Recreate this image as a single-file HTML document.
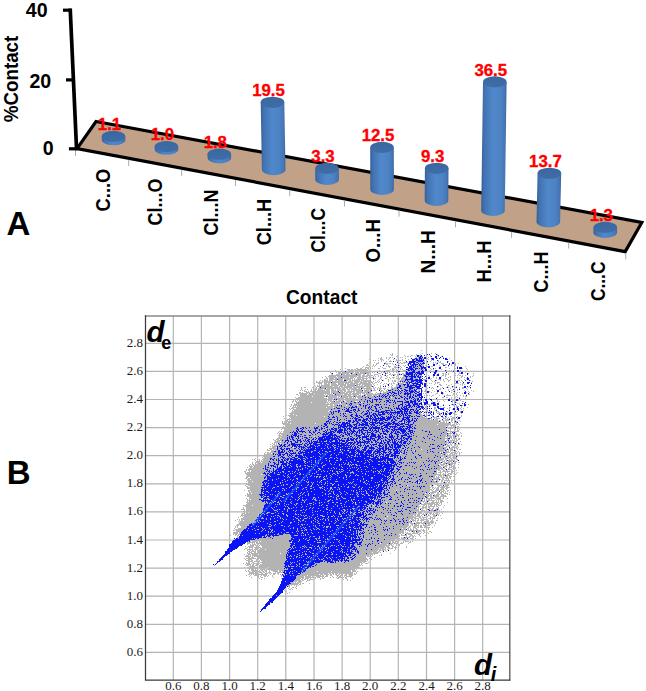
<!DOCTYPE html>
<html><head><meta charset="utf-8"><style>
html,body{margin:0;padding:0;background:#fff;}
svg{display:block;}
</style></head><body>
<svg width="646" height="691" viewBox="0 0 646 691">
<defs><linearGradient id="cb" x1="0" x2="1" y1="0" y2="0">
<stop offset="0" stop-color="#375f97"/><stop offset="0.12" stop-color="#4272b0"/>
<stop offset="0.45" stop-color="#5088cb"/><stop offset="0.75" stop-color="#4d83c4"/>
<stop offset="0.92" stop-color="#4677b6"/><stop offset="1" stop-color="#3a659f"/></linearGradient><linearGradient id="ct" x1="0" x2="0" y1="0" y2="1">
<stop offset="0" stop-color="#3b679f"/><stop offset="1" stop-color="#3f6da8"/></linearGradient></defs>
<polygon points="96,121.5 641.8,222.5 625.2,251.6 77,148.6" fill="#C1A288" stroke="#000" stroke-width="3.2" stroke-linejoin="miter"/>
<line x1="75.5" y1="149.9" x2="75.5" y2="155.9" stroke="#aaa" stroke-width="1"/>
<line x1="128.7" y1="159.9" x2="128.7" y2="165.9" stroke="#aaa" stroke-width="1"/>
<line x1="181.7" y1="169.9" x2="181.7" y2="175.9" stroke="#aaa" stroke-width="1"/>
<line x1="235.5" y1="180.0" x2="235.5" y2="186.0" stroke="#aaa" stroke-width="1"/>
<line x1="289.7" y1="190.2" x2="289.7" y2="196.2" stroke="#aaa" stroke-width="1"/>
<line x1="344.5" y1="200.5" x2="344.5" y2="206.5" stroke="#aaa" stroke-width="1"/>
<line x1="399" y1="210.7" x2="399" y2="216.7" stroke="#aaa" stroke-width="1"/>
<line x1="455.5" y1="221.3" x2="455.5" y2="227.3" stroke="#aaa" stroke-width="1"/>
<line x1="511.6" y1="231.9" x2="511.6" y2="237.9" stroke="#aaa" stroke-width="1"/>
<line x1="568.7" y1="242.6" x2="568.7" y2="248.6" stroke="#aaa" stroke-width="1"/>
<line x1="625.8" y1="253.3" x2="625.8" y2="259.3" stroke="#aaa" stroke-width="1"/>
<line x1="70.2" y1="8.5" x2="76.6" y2="150.2" stroke="#000" stroke-width="3.7"/>
<line x1="63" y1="10.2" x2="71.5" y2="10.2" stroke="#000" stroke-width="3.2"/>
<line x1="66" y1="79.9" x2="73.5" y2="79.9" stroke="#000" stroke-width="3.2"/>
<line x1="68.9" y1="148.8" x2="77.5" y2="148.8" stroke="#000" stroke-width="3.2"/>
<path d="M101.7,136.4 L101.8,139.7 A11.8,5.6 0 0 0 125.4,139.7 L125.3,136.4 Z" fill="url(#cb)"/>
<ellipse cx="113.5" cy="136.4" rx="11.8" ry="5.6" fill="url(#ct)"/>
<path d="M154.6,146.6 L154.7,149.2 A11.8,5.6 0 0 0 178.3,149.2 L178.2,146.6 Z" fill="url(#cb)"/>
<ellipse cx="166.4" cy="146.6" rx="11.8" ry="5.6" fill="url(#ct)"/>
<path d="M207.5,154.2 L207.6,157.8 A11.8,5.6 0 0 0 231.2,157.8 L231.1,154.2 Z" fill="url(#cb)"/>
<ellipse cx="219.3" cy="154.2" rx="11.8" ry="5.6" fill="url(#ct)"/>
<path d="M260.7,102.3 L261.9,169.6 A11.8,5.6 0 0 0 285.5,169.6 L284.3,102.3 Z" fill="url(#cb)"/>
<ellipse cx="272.5" cy="102.3" rx="11.8" ry="5.6" fill="url(#ct)"/>
<path d="M315.2,168.4 L315.3,179.4 A11.8,5.6 0 0 0 338.9,179.4 L338.8,168.4 Z" fill="url(#cb)"/>
<ellipse cx="327.0" cy="168.4" rx="11.8" ry="5.6" fill="url(#ct)"/>
<path d="M370.2,147.4 L370.3,189.4 A11.8,5.6 0 0 0 393.9,189.4 L393.8,147.4 Z" fill="url(#cb)"/>
<ellipse cx="382.0" cy="147.4" rx="11.8" ry="5.6" fill="url(#ct)"/>
<path d="M424.9,168.3 L424.7,200.4 A11.8,5.6 0 0 0 448.3,200.4 L448.5,168.3 Z" fill="url(#cb)"/>
<ellipse cx="436.7" cy="168.3" rx="11.8" ry="5.6" fill="url(#ct)"/>
<path d="M483.0,81.9 L481.2,210.4 A11.8,5.6 0 0 0 504.8,210.4 L506.6,81.9 Z" fill="url(#cb)"/>
<ellipse cx="494.8" cy="81.9" rx="11.8" ry="5.6" fill="url(#ct)"/>
<path d="M537.6,173.3 L536.5,221.8 A11.8,5.6 0 0 0 560.1,221.8 L561.2,173.3 Z" fill="url(#cb)"/>
<ellipse cx="549.4" cy="173.3" rx="11.8" ry="5.6" fill="url(#ct)"/>
<path d="M593.5,227.4 L593.4,232.4 A11.8,5.6 0 0 0 617.0,232.4 L617.1,227.4 Z" fill="url(#cb)"/>
<ellipse cx="605.3" cy="227.4" rx="11.8" ry="5.6" fill="url(#ct)"/>
<text x="109.5" y="130.2" text-anchor="middle" font-family='"Liberation Sans", sans-serif' font-weight="bold" font-size="16.8" fill="#FF0000" stroke="#FF0000" stroke-width="0.35">1.1</text>
<text x="162.4" y="140.4" text-anchor="middle" font-family='"Liberation Sans", sans-serif' font-weight="bold" font-size="16.8" fill="#FF0000" stroke="#FF0000" stroke-width="0.35">1.0</text>
<text x="215.3" y="148.0" text-anchor="middle" font-family='"Liberation Sans", sans-serif' font-weight="bold" font-size="16.8" fill="#FF0000" stroke="#FF0000" stroke-width="0.35">1.8</text>
<text x="268.5" y="96.1" text-anchor="middle" font-family='"Liberation Sans", sans-serif' font-weight="bold" font-size="16.8" fill="#FF0000" stroke="#FF0000" stroke-width="0.35">19.5</text>
<text x="323.0" y="162.2" text-anchor="middle" font-family='"Liberation Sans", sans-serif' font-weight="bold" font-size="16.8" fill="#FF0000" stroke="#FF0000" stroke-width="0.35">3.3</text>
<text x="378.0" y="141.2" text-anchor="middle" font-family='"Liberation Sans", sans-serif' font-weight="bold" font-size="16.8" fill="#FF0000" stroke="#FF0000" stroke-width="0.35">12.5</text>
<text x="432.7" y="162.1" text-anchor="middle" font-family='"Liberation Sans", sans-serif' font-weight="bold" font-size="16.8" fill="#FF0000" stroke="#FF0000" stroke-width="0.35">9.3</text>
<text x="490.8" y="75.7" text-anchor="middle" font-family='"Liberation Sans", sans-serif' font-weight="bold" font-size="16.8" fill="#FF0000" stroke="#FF0000" stroke-width="0.35">36.5</text>
<text x="545.4" y="167.1" text-anchor="middle" font-family='"Liberation Sans", sans-serif' font-weight="bold" font-size="16.8" fill="#FF0000" stroke="#FF0000" stroke-width="0.35">13.7</text>
<text x="601.3" y="221.2" text-anchor="middle" font-family='"Liberation Sans", sans-serif' font-weight="bold" font-size="16.8" fill="#FF0000" stroke="#FF0000" stroke-width="0.35">1.3</text>
<text x="47.6" y="17.4" text-anchor="end" font-family='"Liberation Sans", sans-serif' font-weight="bold" font-size="19.6">40</text>
<text x="51.2" y="87.6" text-anchor="end" font-family='"Liberation Sans", sans-serif' font-weight="bold" font-size="19.6">20</text>
<text x="53.6" y="155.2" text-anchor="end" font-family='"Liberation Sans", sans-serif' font-weight="bold" font-size="19.6">0</text>
<text transform="translate(17.8,122.2) rotate(-90)" font-family='"Liberation Sans", sans-serif' font-weight="bold" font-size="20.5" textLength="86.5" lengthAdjust="spacingAndGlyphs">%Contact</text>
<text transform="translate(109.6,168.7) rotate(-90)" text-anchor="end" font-family='"Liberation Sans", sans-serif' font-weight="bold" font-size="20" textLength="42.7" lengthAdjust="spacingAndGlyphs">C...O</text>
<text transform="translate(162.2,178.6) rotate(-90)" text-anchor="end" font-family='"Liberation Sans", sans-serif' font-weight="bold" font-size="20" textLength="47.0" lengthAdjust="spacingAndGlyphs">Cl...O</text>
<text transform="translate(217.8,189.6) rotate(-90)" text-anchor="end" font-family='"Liberation Sans", sans-serif' font-weight="bold" font-size="20" textLength="46.0" lengthAdjust="spacingAndGlyphs">Cl...N</text>
<text transform="translate(270.5,198.8) rotate(-90)" text-anchor="end" font-family='"Liberation Sans", sans-serif' font-weight="bold" font-size="20" textLength="46.5" lengthAdjust="spacingAndGlyphs">Cl...H</text>
<text transform="translate(324.6,208.0) rotate(-90)" text-anchor="end" font-family='"Liberation Sans", sans-serif' font-weight="bold" font-size="20" textLength="44.5" lengthAdjust="spacingAndGlyphs">Cl...C</text>
<text transform="translate(380.3,219.1) rotate(-90)" text-anchor="end" font-family='"Liberation Sans", sans-serif' font-weight="bold" font-size="20" textLength="43.3" lengthAdjust="spacingAndGlyphs">O...H</text>
<text transform="translate(434.8,230.3) rotate(-90)" text-anchor="end" font-family='"Liberation Sans", sans-serif' font-weight="bold" font-size="20" textLength="43.3" lengthAdjust="spacingAndGlyphs">N...H</text>
<text transform="translate(490.8,240.4) rotate(-90)" text-anchor="end" font-family='"Liberation Sans", sans-serif' font-weight="bold" font-size="20" textLength="42.1" lengthAdjust="spacingAndGlyphs">H...H</text>
<text transform="translate(547.8,251.6) rotate(-90)" text-anchor="end" font-family='"Liberation Sans", sans-serif' font-weight="bold" font-size="20" textLength="40.8" lengthAdjust="spacingAndGlyphs">C...H</text>
<text transform="translate(604.7,261.5) rotate(-90)" text-anchor="end" font-family='"Liberation Sans", sans-serif' font-weight="bold" font-size="20" textLength="39.6" lengthAdjust="spacingAndGlyphs">C...C</text>
<text x="286" y="303.8" font-family='"Liberation Sans", sans-serif' font-weight="bold" font-size="20" textLength="71.5" lengthAdjust="spacingAndGlyphs">Contact</text>
<text x="6.6" y="234.5" font-family='"Liberation Sans", sans-serif' font-weight="bold" font-size="33">A</text>
<text x="6.7" y="483.7" font-family='"Liberation Sans", sans-serif' font-weight="bold" font-size="33">B</text>
<path d="M173.3,315.9V680.0M201.4,315.9V680.0M229.6,315.9V680.0M257.7,315.9V680.0M285.8,315.9V680.0M314.0,315.9V680.0M342.1,315.9V680.0M370.2,315.9V680.0M398.3,315.9V680.0M426.5,315.9V680.0M454.6,315.9V680.0M482.7,315.9V680.0M145.5,343.3H509.7M145.5,371.4H509.7M145.5,399.5H509.7M145.5,427.6H509.7M145.5,455.7H509.7M145.5,483.8H509.7M145.5,511.9H509.7M145.5,540.0H509.7M145.5,568.1H509.7M145.5,596.2H509.7M145.5,624.3H509.7M145.5,652.4H509.7" stroke="#b4b4b4" stroke-width="1.2" fill="none"/>
<path d="M421 350.5h1M392 353.5h1m29 0h1m8 0h1m3 0h1M390 354.5h1m1 0h1m23 0h1m3 0h1m16 0h1M391 355.5h2m4 0h1m6 0h1m6 0h2m3 0h1m2 0h2m9 0h1m6 0h1M396 356.5h1m8 0h1m1 0h2m1 0h1m4 0h1m3 0h1m2 0h1m3 0h1m3 0h1m7 0h1m2 0h1M381 357.5h1m4 0h1m2 0h2m1 0h1m4 0h1m2 0h1m1 0h1m13 0h1m1 0h1m2 0h1m6 0h1m14 0h1M378 358.5h1m1 0h2m4 0h1m2 0h1m8 0h1m6 0h1m8 0h1m2 0h2m3 0h2m3 0h1m9 0h1m11 0h1M369 359.5h1m10 0h3m5 0h1m4 0h1m2 0h1m1 0h1m3 0h1m5 0h1m6 0h1m2 0h1m1 0h1m1 0h1m5 0h1m2 0h1M373 360.5h1m1 0h1m2 0h1m2 0h1m1 0h1m6 0h1m5 0h2m1 0h2m1 0h1m2 0h1m8 0h2m8 0h1m6 0h1m1 0h1m4 0h1m12 0h1M370 361.5h1m10 0h1m4 0h1m2 0h3m3 0h1m1 0h2m17 0h2m5 0h2m1 0h1m3 0h1m7 0h1m1 0h1m7 0h1M370 362.5h1m3 0h1m3 0h1m6 0h1m14 0h1m2 0h5m7 0h1m2 0h5m1 0h1m2 0h1m5 0h1m1 0h1m1 0h1m1 0h2M369 363.5h1m6 0h3m6 0h3m1 0h2m1 0h1m5 0h2m1 0h2m1 0h1m6 0h1m3 0h3m1 0h1m1 0h1m11 0h1m2 0h1m4 0h3m10 0h2m2 0h1M367 364.5h1m5 0h1m2 0h1m7 0h1m1 0h2m5 0h1m13 0h1m3 0h1m6 0h1m1 0h1m1 0h2m12 0h1m5 0h2m1 0h2m4 0h1m3 0h1M366 365.5h3m4 0h1m1 0h1m12 0h1m7 0h1m2 0h1m3 0h1m1 0h1m4 0h1m3 0h1m1 0h3m2 0h3m1 0h1m13 0h1m5 0h1m5 0h1m3 0h1M363 366.5h1m5 0h1m2 0h1m1 0h1m5 0h1m5 0h1m1 0h3m3 0h2m4 0h1m3 0h1m7 0h1m1 0h1m1 0h1m1 0h2m2 0h1m3 0h2m3 0h2m7 0h1m7 0h1m8 0h1m7 0h1M362 367.5h1m2 0h4m1 0h1m11 0h1m6 0h1m4 0h4m1 0h1m1 0h1m10 0h1m2 0h6m24 0h2M345 368.5h1m10 0h2m2 0h2m3 0h1m1 0h2m1 0h1m1 0h1m5 0h2m3 0h3m6 0h2m1 0h1m2 0h1m1 0h1m12 0h2m3 0h1m1 0h1m2 0h1m6 0h1m4 0h1m13 0h1m4 0h2m6 0h1m3 0h1M340 369.5h1m6 0h3m1 0h2m1 0h2m1 0h10m1 0h1m21 0h1m1 0h3m1 0h1m3 0h1m1 0h1m6 0h1m4 0h1m1 0h5m1 0h2m7 0h1m1 0h1m7 0h1m25 0h1M335 370.5h1m12 0h6m1 0h13m1 0h1m9 0h1m6 0h4m2 0h2m2 0h2m5 0h3m1 0h1m2 0h1m1 0h1m2 0h7m1 0h2m5 0h1m6 0h1m8 0h1m2 0h1m1 0h1m1 0h1m6 0h1M333 371.5h1m5 0h4m1 0h1m1 0h2m1 0h1m2 0h11m1 0h5m3 0h1m3 0h1m1 0h1m1 0h1m2 0h1m1 0h2m1 0h1m2 0h1m1 0h1m2 0h1m6 0h2m2 0h5m3 0h3m2 0h1m4 0h2m2 0h1m17 0h1m6 0h2m7 0h1M330 372.5h1m5 0h1m1 0h3m1 0h12m1 0h4m1 0h10m2 0h1m1 0h1m6 0h1m1 0h3m1 0h1m1 0h1m3 0h1m2 0h1m8 0h1m2 0h1m6 0h1m4 0h1m12 0h1m2 0h1m17 0h1m4 0h1m5 0h1M331 373.5h1m6 0h11m1 0h1m1 0h1m1 0h11m1 0h3m1 0h1m7 0h3m5 0h2m2 0h1m8 0h1m2 0h2m1 0h1m7 0h2m1 0h1m21 0h1m3 0h2m1 0h1m2 0h1m5 0h2m3 0h2m7 0h1m4 0h1M331 374.5h2m3 0h4m2 0h3m1 0h4m1 0h5m1 0h4m2 0h2m2 0h2m1 0h1m3 0h4m7 0h1m3 0h2m1 0h4m1 0h1m2 0h1m2 0h3m7 0h1m1 0h1m1 0h2m24 0h1m1 0h2m1 0h1m9 0h1M329 375.5h13m1 0h18m1 0h3m1 0h4m1 0h2m1 0h1m3 0h1m1 0h1m3 0h1m2 0h1m3 0h1m2 0h1m2 0h1m5 0h1m2 0h2m1 0h2m2 0h1m1 0h1m1 0h1m1 0h3m6 0h1m7 0h1m5 0h2m1 0h1m9 0h1m1 0h1m1 0h2m1 0h1m2 0h1m7 0h1M325 376.5h1m2 0h8m1 0h20m1 0h3m1 0h6m1 0h2m2 0h1m1 0h1m2 0h1m2 0h1m4 0h1m9 0h1m1 0h1m4 0h2m3 0h1m7 0h1m2 0h1m1 0h1m4 0h1m2 0h1m3 0h1m7 0h1m3 0h1m4 0h1m10 0h2m7 0h1m1 0h1M322 377.5h1m3 0h1m2 0h8m1 0h3m1 0h7m1 0h4m1 0h1m1 0h7m2 0h1m1 0h6m6 0h2m5 0h1m1 0h1m2 0h3m5 0h1m1 0h4m1 0h4m2 0h1m2 0h2m3 0h1m2 0h1m8 0h1m2 0h1m11 0h1m1 0h1m3 0h1m2 0h1m3 0h1m2 0h1m5 0h1M326 378.5h2m1 0h5m1 0h18m1 0h1m2 0h4m1 0h6m2 0h1m3 0h2m4 0h1m4 0h2m3 0h1m2 0h1m2 0h4m1 0h5m1 0h3m3 0h5m2 0h1m10 0h1m4 0h1m8 0h2m12 0h1m6 0h1M324 379.5h2m1 0h1m1 0h8m1 0h5m1 0h7m1 0h1m1 0h1m1 0h8m2 0h1m3 0h1m2 0h1m5 0h1m1 0h1m6 0h1m10 0h1m1 0h4m8 0h2m3 0h1m4 0h3m4 0h1m7 0h3m2 0h1m3 0h1m2 0h1m3 0h1m9 0h1M320 380.5h1m1 0h1m1 0h4m1 0h4m2 0h2m1 0h5m3 0h2m1 0h2m1 0h8m1 0h10m4 0h1m2 0h1m4 0h1m4 0h1m3 0h1m1 0h2m4 0h5m1 0h1m1 0h3m13 0h1m6 0h1m4 0h1m3 0h1m2 0h1m4 0h2m5 0h1m1 0h3m1 0h1m8 0h1M316 381.5h1m2 0h1m2 0h9m1 0h15m1 0h5m1 0h8m1 0h9m1 0h1m3 0h1m1 0h1m8 0h1m3 0h1m1 0h2m3 0h1m1 0h1m1 0h1m1 0h3m1 0h2m3 0h2m2 0h1m13 0h1m1 0h1m9 0h1m3 0h1m13 0h1m9 0h1M316 382.5h7m1 0h7m1 0h21m1 0h5m1 0h7m1 0h2m1 0h2m2 0h2m1 0h1m2 0h1m11 0h1m3 0h1m2 0h1m1 0h4m2 0h1m3 0h3m1 0h1m5 0h1m12 0h1m1 0h3m20 0h1m10 0h1M314 383.5h1m3 0h4m2 0h3m1 0h2m1 0h5m2 0h6m1 0h4m1 0h8m1 0h12m1 0h1m1 0h1m5 0h1m3 0h1m1 0h1m2 0h1m1 0h1m1 0h2m4 0h5m1 0h2m1 0h1m2 0h1m6 0h1m10 0h1m1 0h1m3 0h1m1 0h1m17 0h4m3 0h2M319 384.5h1m1 0h1m2 0h6m1 0h6m1 0h8m1 0h8m1 0h5m1 0h10m1 0h1m3 0h1m5 0h1m3 0h1m3 0h1m4 0h2m1 0h4m3 0h1m2 0h4m1 0h2m18 0h1m4 0h2m5 0h1m4 0h1m8 0h1m1 0h1m1 0h1M314 385.5h1m2 0h1m1 0h1m1 0h9m1 0h8m1 0h6m1 0h8m1 0h2m1 0h1m1 0h2m1 0h6m1 0h1m2 0h1m5 0h1m4 0h1m6 0h1m3 0h3m2 0h3m1 0h2m2 0h1m7 0h2m8 0h1m12 0h2m6 0h2m4 0h1m7 0h1M315 386.5h1m1 0h16m1 0h4m1 0h4m1 0h11m1 0h14m1 0h1m1 0h1m6 0h1m10 0h1m4 0h3m2 0h6m5 0h3m23 0h1m8 0h1m5 0h2m1 0h1m12 0h1M301 387.5h1m2 0h2m6 0h2m2 0h1m2 0h1m1 0h19m1 0h11m1 0h11m2 0h5m2 0h1m1 0h1m2 0h1m1 0h1m7 0h1m2 0h2m1 0h3m3 0h5m3 0h1m6 0h1m9 0h2m5 0h1m4 0h1m4 0h1m3 0h1m1 0h1m3 0h1m2 0h1m3 0h1m2 0h2m4 0h1M301 388.5h1m11 0h1m1 0h2m1 0h7m2 0h14m2 0h2m1 0h2m1 0h8m1 0h2m2 0h10m1 0h2m2 0h1m1 0h3m1 0h3m5 0h6m1 0h2m2 0h7m4 0h4m9 0h2m3 0h1m1 0h1m6 0h1m9 0h1m3 0h1m4 0h1m2 0h2m2 0h1m3 0h1M301 389.5h1m3 0h1m1 0h1m3 0h1m1 0h1m1 0h2m1 0h5m1 0h6m1 0h3m1 0h1m1 0h4m1 0h4m1 0h3m1 0h11m2 0h1m1 0h6m2 0h1m2 0h1m1 0h2m3 0h1m2 0h2m1 0h2m1 0h5m2 0h4m2 0h3m2 0h3m1 0h1m1 0h3m5 0h1m10 0h1m2 0h2m7 0h1m8 0h1m9 0h1M300 390.5h1m1 0h1m1 0h1m6 0h1m2 0h2m1 0h8m1 0h4m1 0h5m1 0h5m1 0h3m2 0h2m1 0h1m1 0h9m2 0h5m1 0h1m2 0h3m5 0h2m3 0h1m4 0h4m1 0h1m1 0h1m4 0h2m3 0h1m1 0h1m2 0h1m2 0h1m1 0h2m2 0h1m2 0h1m6 0h1m15 0h1m2 0h2m4 0h1m6 0h1m6 0h1M304 391.5h3m1 0h1m1 0h20m1 0h7m2 0h3m1 0h2m1 0h8m1 0h7m1 0h8m8 0h2m1 0h1m2 0h6m1 0h5m1 0h1m1 0h3m1 0h1m1 0h2m5 0h1m2 0h2m3 0h1m1 0h2m3 0h1m4 0h1m6 0h1m3 0h1m7 0h1m14 0h1m4 0h1M299 392.5h2m1 0h1m3 0h4m2 0h18m1 0h8m1 0h5m1 0h6m1 0h2m1 0h12m1 0h2m5 0h1m3 0h1m2 0h6m2 0h1m3 0h3m1 0h2m1 0h3m1 0h1m1 0h2m3 0h1m1 0h2m2 0h1m11 0h1m5 0h1m13 0h1m5 0h1m1 0h1m6 0h1m2 0h1M299 393.5h9m1 0h5m1 0h15m1 0h1m2 0h14m1 0h2m1 0h9m1 0h3m1 0h4m1 0h2m2 0h1m1 0h3m1 0h6m3 0h1m1 0h2m3 0h1m1 0h1m1 0h3m7 0h4m3 0h1m4 0h1m1 0h1m10 0h2m5 0h1m9 0h2m1 0h1m5 0h1M296 394.5h2m2 0h7m1 0h6m1 0h9m1 0h1m1 0h6m1 0h1m1 0h5m1 0h1m1 0h15m1 0h1m3 0h19m1 0h1m1 0h2m1 0h4m1 0h4m1 0h5m2 0h1m2 0h1m1 0h2m1 0h3m18 0h1m6 0h1m4 0h1m5 0h1m2 0h1m11 0h2M298 395.5h1m1 0h25m1 0h2m1 0h18m1 0h3m2 0h4m1 0h3m1 0h2m1 0h1m1 0h5m1 0h4m1 0h1m1 0h2m1 0h1m1 0h2m1 0h2m1 0h1m1 0h1m1 0h1m1 0h2m1 0h7m1 0h2m1 0h2m1 0h1m1 0h1m7 0h1m1 0h2m1 0h1m2 0h2m5 0h1m4 0h1m1 0h5m1 0h1m4 0h1m2 0h1m2 0h1M300 396.5h12m1 0h13m1 0h10m1 0h2m3 0h11m1 0h7m1 0h11m1 0h2m1 0h1m1 0h1m1 0h1m1 0h1m2 0h2m1 0h3m1 0h6m2 0h2m1 0h2m1 0h1m2 0h1m1 0h2m2 0h2m7 0h1m4 0h1m22 0h1m1 0h1m6 0h1m1 0h2M295 397.5h1m2 0h26m4 0h9m1 0h1m1 0h8m1 0h3m1 0h1m1 0h1m1 0h8m1 0h2m1 0h6m1 0h6m1 0h2m1 0h3m1 0h1m1 0h3m1 0h5m2 0h2m1 0h3m2 0h1m2 0h5m18 0h1m4 0h2m2 0h2m3 0h1m2 0h2m1 0h1m1 0h1M296 398.5h31m1 0h5m1 0h10m1 0h11m2 0h11m2 0h8m1 0h6m1 0h1m1 0h6m2 0h1m2 0h4m1 0h1m2 0h1m1 0h1m1 0h2m1 0h2m3 0h1m8 0h1m19 0h1m1 0h1m2 0h1m10 0h1M297 399.5h31m1 0h1m1 0h3m1 0h1m1 0h1m1 0h4m1 0h1m1 0h12m1 0h2m1 0h3m1 0h6m1 0h1m4 0h1m3 0h7m1 0h14m1 0h2m1 0h5m1 0h1m1 0h1m5 0h1m1 0h1m19 0h1m13 0h2m1 0h2m8 0h1M293 400.5h1m1 0h1m1 0h1m1 0h28m1 0h4m1 0h1m1 0h2m1 0h3m1 0h2m1 0h22m1 0h1m1 0h2m1 0h3m1 0h9m3 0h1m1 0h1m1 0h1m1 0h10m1 0h4m2 0h2m2 0h1m1 0h1m1 0h1m2 0h1m13 0h1m5 0h1m8 0h2m1 0h1m2 0h1m1 0h1M292 401.5h2m1 0h2m1 0h29m1 0h1m1 0h4m2 0h7m1 0h1m1 0h5m1 0h3m2 0h1m2 0h4m1 0h2m1 0h2m1 0h1m1 0h3m1 0h3m1 0h3m1 0h2m2 0h5m1 0h2m6 0h3m3 0h1m6 0h2m2 0h1m2 0h1m8 0h1m4 0h1m1 0h1m4 0h1m7 0h1m2 0h1m6 0h2M292 402.5h1m3 0h15m1 0h16m1 0h1m1 0h9m2 0h12m2 0h2m1 0h1m2 0h5m1 0h3m2 0h6m1 0h6m1 0h2m2 0h2m1 0h1m1 0h6m1 0h1m5 0h1m3 0h1m2 0h3m1 0h1m2 0h1m7 0h2m2 0h1m2 0h1m13 0h1m1 0h1m1 0h1M294 403.5h1m1 0h30m1 0h2m1 0h10m1 0h5m1 0h3m2 0h11m1 0h31m1 0h6m1 0h5m2 0h2m1 0h1m4 0h1m16 0h1m21 0h1m1 0h1M291 404.5h1m2 0h39m1 0h4m1 0h2m1 0h7m1 0h1m1 0h7m2 0h6m1 0h1m1 0h5m4 0h1m1 0h3m1 0h1m1 0h6m1 0h6m3 0h2m1 0h2m2 0h3m5 0h1m1 0h1m1 0h1m4 0h3m1 0h1m11 0h1m7 0h1m1 0h1m5 0h1m8 0h1M291 405.5h1m1 0h35m2 0h3m1 0h3m1 0h1m1 0h1m2 0h3m1 0h3m1 0h6m1 0h2m1 0h2m1 0h1m2 0h5m1 0h3m1 0h1m1 0h10m1 0h8m2 0h2m1 0h3m5 0h2m2 0h2m2 0h1m1 0h2m1 0h1m1 0h1m2 0h2m5 0h2m15 0h1m2 0h1m5 0h1M290 406.5h1m2 0h1m1 0h1m1 0h44m1 0h10m1 0h2m2 0h6m1 0h1m1 0h3m1 0h1m1 0h2m2 0h5m1 0h11m1 0h4m1 0h3m1 0h1m3 0h2m2 0h1m1 0h1m1 0h1m1 0h1m5 0h1m1 0h1m14 0h1m15 0h3m2 0h1m2 0h1M292 407.5h34m1 0h6m1 0h2m1 0h7m1 0h4m1 0h1m4 0h1m1 0h8m1 0h2m2 0h1m1 0h3m1 0h3m1 0h1m1 0h3m2 0h1m1 0h7m1 0h1m1 0h2m1 0h1m2 0h1m1 0h1m2 0h1m1 0h5m8 0h1m1 0h1m6 0h2m7 0h2m4 0h2m3 0h1m1 0h1m4 0h1m5 0h1M289 408.5h1m1 0h3m2 0h38m1 0h2m3 0h6m1 0h1m1 0h2m1 0h6m1 0h2m1 0h3m1 0h2m1 0h1m1 0h4m2 0h5m1 0h5m1 0h1m1 0h3m1 0h1m4 0h1m2 0h1m4 0h8m1 0h3m1 0h1m1 0h1m10 0h2m11 0h1m1 0h1m10 0h1m2 0h1M290 409.5h1m2 0h38m1 0h10m1 0h1m1 0h2m2 0h4m3 0h2m1 0h10m1 0h1m1 0h4m1 0h3m1 0h10m1 0h5m1 0h1m2 0h1m7 0h1m4 0h2m1 0h2m6 0h1m1 0h1m6 0h1m1 0h1m12 0h1m2 0h1m3 0h1m4 0h1M292 410.5h1m1 0h35m1 0h8m2 0h6m3 0h1m2 0h1m1 0h1m1 0h2m2 0h7m2 0h3m2 0h2m1 0h1m1 0h6m5 0h1m2 0h1m1 0h5m2 0h2m2 0h1m1 0h2m1 0h2m1 0h1m1 0h1m10 0h1m7 0h1m7 0h2m18 0h1M292 411.5h36m1 0h1m1 0h2m1 0h1m2 0h1m2 0h5m5 0h4m1 0h2m1 0h5m1 0h2m1 0h1m1 0h6m4 0h2m4 0h1m1 0h3m1 0h4m1 0h1m6 0h1m4 0h1m1 0h1m1 0h2m1 0h1m2 0h2m3 0h1m1 0h1m1 0h1m1 0h2m2 0h1m2 0h3m8 0h1m9 0h1m2 0h1M291 412.5h40m1 0h1m1 0h4m1 0h7m1 0h2m3 0h3m1 0h6m1 0h4m1 0h1m1 0h1m1 0h6m6 0h1m4 0h1m10 0h1m2 0h1m1 0h1m1 0h2m2 0h3m4 0h1m1 0h1m4 0h1m4 0h1m5 0h1m1 0h2m2 0h1m2 0h1m1 0h1m1 0h1m2 0h1m2 0h1m4 0h1M289 413.5h42m1 0h1m1 0h6m1 0h2m1 0h1m1 0h10m1 0h4m1 0h3m3 0h1m1 0h3m3 0h2m1 0h2m4 0h2m1 0h1m1 0h1m1 0h1m1 0h1m1 0h1m3 0h1m2 0h1m4 0h1m3 0h4m3 0h2m2 0h1m4 0h1m8 0h4m7 0h1m4 0h1m7 0h1M290 414.5h3m1 0h35m1 0h2m1 0h10m1 0h7m2 0h3m1 0h7m3 0h2m1 0h2m2 0h1m2 0h1m7 0h3m1 0h1m2 0h2m1 0h2m1 0h2m1 0h1m2 0h1m1 0h1m1 0h11m1 0h2m2 0h1m4 0h1m10 0h1m6 0h1m7 0h2M286 415.5h1m1 0h8m1 0h43m1 0h3m1 0h5m2 0h3m3 0h1m1 0h3m1 0h3m2 0h1m2 0h1m2 0h1m2 0h1m2 0h9m1 0h1m1 0h4m1 0h1m1 0h1m1 0h1m1 0h1m2 0h1m3 0h5m1 0h6m4 0h1m3 0h2m5 0h1m1 0h1m1 0h1m1 0h1m1 0h1m7 0h1m6 0h1M283 416.5h1m5 0h35m1 0h3m1 0h4m1 0h2m1 0h6m1 0h1m2 0h4m2 0h3m2 0h2m2 0h4m3 0h1m2 0h2m2 0h1m1 0h3m2 0h3m1 0h1m1 0h1m2 0h1m2 0h1m1 0h2m2 0h2m1 0h3m1 0h1m1 0h1m2 0h1m1 0h2m3 0h3m1 0h1m7 0h1m3 0h1m9 0h1m3 0h2m5 0h1m3 0h1M290 417.5h39m1 0h2m3 0h2m1 0h15m1 0h1m1 0h2m2 0h1m2 0h5m1 0h1m1 0h1m1 0h1m2 0h2m1 0h1m1 0h1m3 0h2m5 0h1m1 0h1m1 0h1m1 0h5m7 0h15m8 0h4m5 0h2m1 0h2m1 0h1m3 0h2m6 0h1M284 418.5h1m4 0h1m1 0h37m1 0h8m1 0h8m1 0h3m1 0h1m1 0h1m4 0h5m1 0h2m2 0h1m3 0h1m1 0h1m10 0h1m5 0h2m2 0h2m3 0h2m2 0h2m3 0h3m1 0h1m2 0h1m1 0h8m1 0h1m2 0h2m2 0h1m1 0h4m3 0h3m1 0h1m1 0h1m1 0h3m1 0h1m1 0h1M285 419.5h1m1 0h42m3 0h2m1 0h2m1 0h2m1 0h3m1 0h10m2 0h1m3 0h2m5 0h2m1 0h1m5 0h1m1 0h1m6 0h1m3 0h2m1 0h1m2 0h6m4 0h1m3 0h2m1 0h3m1 0h13m1 0h1m3 0h3m7 0h4m2 0h2m4 0h1M286 420.5h2m1 0h1m1 0h37m1 0h8m1 0h1m1 0h6m1 0h1m3 0h2m1 0h1m2 0h1m3 0h1m3 0h1m1 0h1m1 0h1m1 0h1m1 0h1m4 0h1m4 0h2m3 0h3m2 0h2m2 0h4m2 0h1m1 0h1m1 0h1m2 0h1m2 0h1m1 0h1m1 0h21m1 0h2m1 0h2m1 0h4m2 0h2m2 0h1m3 0h1M282 421.5h1m1 0h1m1 0h40m3 0h1m1 0h3m1 0h13m3 0h2m2 0h1m2 0h4m4 0h3m1 0h2m1 0h2m2 0h2m1 0h3m1 0h7m1 0h1m2 0h4m3 0h2m1 0h2m4 0h3m2 0h23m1 0h1m2 0h2m1 0h1m4 0h1m4 0h2m2 0h1M282 422.5h1m1 0h1m1 0h1m1 0h38m1 0h2m1 0h3m1 0h2m2 0h1m2 0h1m3 0h1m2 0h1m1 0h2m2 0h3m2 0h2m1 0h2m4 0h2m6 0h1m3 0h1m2 0h1m3 0h1m2 0h2m3 0h3m1 0h4m2 0h1m1 0h1m2 0h3m1 0h25m1 0h5m1 0h1m1 0h1m1 0h1m1 0h1m1 0h3M282 423.5h8m1 0h24m1 0h8m2 0h1m1 0h1m1 0h1m1 0h6m1 0h3m8 0h6m2 0h1m1 0h2m2 0h1m3 0h1m1 0h2m2 0h1m3 0h1m5 0h3m5 0h1m5 0h1m1 0h1m4 0h3m1 0h4m1 0h37m3 0h1m1 0h1m1 0h1M283 424.5h41m3 0h5m2 0h1m3 0h1m1 0h1m5 0h1m1 0h1m2 0h2m4 0h2m9 0h2m5 0h5m2 0h2m1 0h1m5 0h1m2 0h1m4 0h1m3 0h2m4 0h1m3 0h24m1 0h13m1 0h3m1 0h2m1 0h1M285 425.5h36m1 0h3m2 0h7m1 0h3m4 0h1m3 0h1m5 0h2m1 0h1m1 0h1m2 0h1m3 0h1m4 0h2m1 0h1m2 0h2m1 0h1m1 0h3m6 0h6m1 0h1m3 0h3m1 0h4m3 0h4m1 0h33m1 0h6M283 426.5h1m2 0h32m1 0h4m2 0h2m1 0h10m1 0h1m8 0h1m4 0h2m2 0h7m1 0h3m1 0h1m1 0h1m1 0h2m2 0h4m2 0h2m3 0h1m8 0h3m5 0h1m2 0h1m2 0h1m1 0h33m1 0h1m3 0h1m1 0h3m1 0h2M280 427.5h2m1 0h2m1 0h11m1 0h4m2 0h1m1 0h3m1 0h4m1 0h1m2 0h3m1 0h4m2 0h5m1 0h4m3 0h1m3 0h1m1 0h2m1 0h1m1 0h1m4 0h1m9 0h2m1 0h1m9 0h1m1 0h2m4 0h2m1 0h1m1 0h1m2 0h1m1 0h1m2 0h1m1 0h4m5 0h2m1 0h31m1 0h1m1 0h1m2 0h1m4 0h1m1 0h1M282 428.5h14m2 0h2m2 0h1m1 0h2m1 0h7m4 0h3m2 0h1m1 0h6m2 0h1m3 0h1m1 0h1m1 0h3m2 0h1m4 0h2m6 0h3m2 0h1m2 0h2m3 0h1m7 0h1m3 0h3m3 0h3m2 0h3m4 0h1m1 0h1m3 0h1m1 0h2m1 0h1m2 0h31m1 0h5m2 0h1m1 0h2M281 429.5h1m2 0h13m2 0h3m1 0h12m1 0h3m1 0h1m1 0h5m1 0h1m1 0h1m3 0h1m2 0h2m4 0h1m2 0h1m1 0h1m2 0h2m1 0h5m1 0h1m3 0h4m1 0h1m1 0h1m1 0h2m1 0h2m1 0h1m1 0h1m1 0h1m1 0h1m1 0h2m1 0h1m2 0h1m11 0h1m1 0h1m2 0h29m1 0h7m3 0h1m3 0h2m1 0h1m1 0h1M284 430.5h12m1 0h1m1 0h2m1 0h6m1 0h1m1 0h4m2 0h2m1 0h5m1 0h1m1 0h2m1 0h3m3 0h1m5 0h1m3 0h3m2 0h1m2 0h3m4 0h1m5 0h1m2 0h1m1 0h1m3 0h1m1 0h3m1 0h2m3 0h4m3 0h1m1 0h3m6 0h3m4 0h9m1 0h23m1 0h2m1 0h1m6 0h2M279 431.5h1m1 0h1m1 0h10m1 0h2m2 0h1m6 0h4m1 0h3m1 0h1m1 0h7m2 0h1m1 0h3m4 0h1m1 0h1m5 0h2m1 0h2m1 0h1m1 0h1m5 0h1m1 0h1m1 0h1m2 0h4m1 0h3m1 0h1m1 0h2m3 0h3m3 0h1m3 0h2m1 0h1m1 0h1m1 0h1m2 0h2m5 0h2m3 0h1m1 0h1m1 0h10m2 0h2m1 0h29M278 432.5h1m1 0h1m2 0h7m1 0h1m1 0h1m2 0h1m1 0h4m1 0h2m1 0h3m2 0h2m2 0h3m2 0h5m2 0h1m4 0h1m2 0h2m6 0h1m2 0h1m1 0h2m1 0h1m2 0h2m2 0h1m1 0h1m2 0h2m1 0h1m4 0h1m1 0h2m2 0h2m1 0h3m1 0h3m1 0h3m2 0h2m1 0h1m3 0h2m3 0h1m1 0h3m3 0h16m1 0h13m1 0h3m3 0h1m2 0h1m1 0h1m4 0h1M277 433.5h1m1 0h15m3 0h1m1 0h12m1 0h5m1 0h2m1 0h2m2 0h1m3 0h1m3 0h6m1 0h3m1 0h1m1 0h1m3 0h1m2 0h1m1 0h1m1 0h2m1 0h2m3 0h2m1 0h3m3 0h6m2 0h1m3 0h4m2 0h2m3 0h3m1 0h1m2 0h1m1 0h1m2 0h1m1 0h2m1 0h27m1 0h5m1 0h4m4 0h1m4 0h1M279 434.5h1m1 0h11m1 0h1m3 0h3m2 0h10m1 0h2m1 0h6m6 0h1m4 0h1m2 0h5m1 0h3m2 0h1m2 0h1m1 0h3m2 0h4m1 0h1m2 0h2m1 0h1m1 0h1m5 0h2m1 0h1m1 0h3m3 0h2m1 0h1m1 0h4m3 0h5m3 0h1m1 0h2m1 0h16m1 0h1m2 0h17m1 0h1m2 0h1m2 0h2m1 0h1M278 435.5h3m1 0h5m1 0h3m1 0h1m4 0h1m1 0h5m2 0h3m2 0h12m1 0h1m1 0h2m9 0h3m1 0h1m2 0h3m1 0h1m1 0h4m1 0h1m5 0h2m2 0h1m1 0h1m1 0h2m5 0h2m2 0h2m1 0h1m1 0h4m1 0h1m2 0h4m1 0h3m6 0h2m1 0h3m1 0h26m1 0h5m2 0h3m1 0h2m1 0h4m2 0h1M279 436.5h10m1 0h1m2 0h2m1 0h1m2 0h1m1 0h1m1 0h11m1 0h3m1 0h3m9 0h1m1 0h1m1 0h1m4 0h2m2 0h6m2 0h4m1 0h1m2 0h2m7 0h1m6 0h1m4 0h1m1 0h2m1 0h3m4 0h1m1 0h2m2 0h2m2 0h4m5 0h4m1 0h10m1 0h6m1 0h17m1 0h2m1 0h1m1 0h1m2 0h1M278 437.5h2m1 0h6m1 0h1m1 0h1m3 0h4m1 0h5m3 0h2m1 0h1m1 0h3m1 0h3m6 0h1m7 0h1m2 0h1m1 0h1m2 0h7m1 0h3m1 0h4m1 0h1m2 0h1m5 0h3m2 0h3m2 0h1m3 0h2m1 0h1m2 0h2m5 0h3m1 0h3m1 0h1m2 0h3m2 0h13m1 0h2m1 0h10m1 0h7m2 0h1m1 0h3m1 0h3M277 438.5h10m1 0h1m1 0h2m1 0h3m1 0h1m1 0h3m1 0h3m2 0h5m1 0h2m1 0h1m5 0h1m15 0h3m1 0h1m2 0h1m2 0h1m2 0h1m2 0h1m2 0h1m1 0h2m1 0h3m3 0h1m5 0h3m2 0h1m2 0h4m1 0h3m1 0h1m1 0h2m2 0h2m2 0h1m1 0h1m4 0h1m2 0h12m1 0h4m1 0h10m1 0h7m3 0h1m1 0h4m1 0h2M273 439.5h1m2 0h3m1 0h7m1 0h2m1 0h1m2 0h3m1 0h2m1 0h4m1 0h2m2 0h2m2 0h1m1 0h2m12 0h1m6 0h1m2 0h1m1 0h5m2 0h1m4 0h1m2 0h3m1 0h1m1 0h3m5 0h1m1 0h1m1 0h2m2 0h1m1 0h4m1 0h2m2 0h1m2 0h1m2 0h2m2 0h1m1 0h2m1 0h1m2 0h2m2 0h20m1 0h12m2 0h3m2 0h1m3 0h1m1 0h2M274 440.5h2m1 0h5m1 0h2m4 0h4m2 0h2m4 0h2m1 0h1m1 0h1m2 0h2m1 0h5m1 0h1m7 0h1m6 0h2m3 0h1m6 0h1m4 0h1m3 0h2m1 0h2m1 0h3m2 0h3m1 0h1m1 0h2m3 0h1m1 0h3m1 0h1m1 0h1m2 0h2m2 0h1m1 0h1m1 0h1m1 0h4m3 0h3m1 0h7m1 0h18m1 0h10m1 0h2m2 0h5m1 0h2M275 441.5h5m1 0h4m1 0h2m1 0h1m2 0h3m1 0h1m1 0h2m2 0h2m1 0h1m1 0h1m2 0h1m1 0h1m5 0h1m2 0h1m2 0h3m2 0h1m2 0h3m3 0h1m1 0h2m3 0h1m2 0h1m1 0h4m1 0h1m2 0h1m2 0h1m1 0h1m6 0h1m1 0h3m2 0h4m1 0h1m1 0h3m3 0h2m1 0h1m2 0h2m1 0h1m2 0h2m3 0h2m1 0h12m1 0h22m1 0h1m1 0h4m1 0h4m3 0h1M274 442.5h10m1 0h2m1 0h3m1 0h3m3 0h2m1 0h6m1 0h1m1 0h1m2 0h1m16 0h1m9 0h1m1 0h3m2 0h1m5 0h1m2 0h1m9 0h1m2 0h2m2 0h2m1 0h1m2 0h1m2 0h2m2 0h1m2 0h1m1 0h1m4 0h1m1 0h1m3 0h1m3 0h4m1 0h14m1 0h23m1 0h3m1 0h1m1 0h1m1 0h1M272 443.5h1m1 0h1m1 0h1m2 0h1m1 0h6m1 0h3m4 0h7m1 0h2m2 0h2m3 0h1m4 0h3m2 0h1m3 0h1m19 0h1m2 0h1m2 0h1m2 0h2m2 0h1m1 0h3m1 0h1m2 0h1m1 0h6m1 0h2m4 0h1m1 0h2m2 0h4m5 0h3m1 0h1m3 0h1m1 0h1m1 0h5m1 0h31m1 0h1m1 0h1m1 0h1m1 0h1m4 0h1M270 444.5h1m2 0h2m1 0h1m1 0h1m1 0h1m1 0h2m2 0h3m1 0h1m11 0h2m1 0h2m2 0h1m1 0h2m14 0h2m4 0h1m4 0h1m1 0h1m4 0h1m2 0h2m1 0h1m2 0h2m2 0h2m1 0h3m1 0h5m1 0h1m5 0h2m1 0h3m1 0h1m2 0h1m2 0h1m2 0h1m5 0h1m1 0h1m1 0h5m1 0h21m1 0h1m2 0h7m1 0h3m1 0h2m2 0h2m2 0h3m1 0h2m1 0h1M272 445.5h1m1 0h6m2 0h1m2 0h3m2 0h2m4 0h1m1 0h1m1 0h4m2 0h1m1 0h2m4 0h1m3 0h2m5 0h1m6 0h1m1 0h2m14 0h1m1 0h2m1 0h3m4 0h1m1 0h1m1 0h1m2 0h2m1 0h1m1 0h4m3 0h1m1 0h2m2 0h2m1 0h1m2 0h1m2 0h1m5 0h1m2 0h1m1 0h5m1 0h25m1 0h4m1 0h2m1 0h3m1 0h1m3 0h1m1 0h1M270 446.5h1m1 0h5m1 0h1m2 0h1m1 0h1m2 0h1m1 0h4m1 0h1m3 0h1m4 0h1m1 0h1m2 0h2m6 0h1m1 0h1m9 0h1m5 0h1m4 0h1m3 0h1m2 0h1m1 0h1m1 0h1m2 0h1m1 0h1m1 0h1m1 0h2m1 0h4m4 0h2m1 0h3m2 0h2m3 0h1m1 0h1m2 0h2m2 0h1m1 0h1m2 0h1m4 0h3m1 0h13m1 0h10m1 0h7m1 0h1m1 0h4m2 0h4m2 0h3m1 0h2M272 447.5h4m2 0h3m1 0h9m1 0h1m1 0h2m1 0h2m1 0h1m4 0h2m4 0h1m15 0h1m2 0h1m3 0h2m4 0h1m10 0h1m1 0h1m2 0h1m2 0h3m1 0h1m3 0h2m5 0h3m1 0h1m1 0h2m2 0h1m2 0h1m1 0h1m3 0h1m7 0h4m1 0h2m1 0h5m1 0h4m1 0h27m4 0h3m1 0h2m1 0h1M269 448.5h8m1 0h2m2 0h2m1 0h1m4 0h4m2 0h2m1 0h2m1 0h1m1 0h1m1 0h2m1 0h1m5 0h1m5 0h1m2 0h1m3 0h1m5 0h1m2 0h1m10 0h2m1 0h1m1 0h1m3 0h2m1 0h4m3 0h2m6 0h3m6 0h1m4 0h3m1 0h2m2 0h1m1 0h3m2 0h3m1 0h3m1 0h20m3 0h3m1 0h4m1 0h2m1 0h1m1 0h4m1 0h1m1 0h2M267 449.5h1m2 0h2m1 0h4m1 0h3m3 0h2m2 0h1m1 0h9m1 0h1m2 0h1m1 0h1m29 0h1m6 0h1m13 0h1m2 0h3m4 0h2m1 0h2m1 0h1m1 0h2m2 0h1m2 0h1m2 0h1m2 0h1m4 0h1m5 0h1m1 0h5m1 0h15m1 0h8m1 0h16m1 0h1m1 0h3m1 0h1m2 0h1m1 0h2M267 450.5h3m1 0h3m1 0h3m2 0h2m1 0h1m1 0h4m4 0h3m2 0h2m1 0h2m11 0h2m6 0h1m11 0h1m5 0h1m3 0h1m2 0h1m7 0h1m4 0h1m1 0h1m3 0h1m6 0h2m1 0h1m4 0h2m3 0h2m1 0h1m1 0h2m2 0h1m2 0h1m1 0h1m1 0h2m1 0h2m1 0h3m1 0h2m2 0h11m1 0h17m1 0h1m1 0h1m1 0h4m1 0h1M271 451.5h3m2 0h2m2 0h1m2 0h1m1 0h3m1 0h1m1 0h1m1 0h6m2 0h1m1 0h2m6 0h2m6 0h1m5 0h2m2 0h2m10 0h1m8 0h1m5 0h1m7 0h2m6 0h2m6 0h1m4 0h4m2 0h3m5 0h1m1 0h3m1 0h10m1 0h14m1 0h1m1 0h11m1 0h4m1 0h1m4 0h2m1 0h1M265 452.5h1m1 0h2m1 0h8m6 0h2m1 0h2m1 0h3m1 0h1m1 0h2m1 0h1m8 0h1m2 0h1m6 0h1m8 0h1m11 0h2m1 0h1m6 0h2m4 0h1m1 0h1m6 0h1m10 0h2m4 0h2m4 0h1m1 0h1m2 0h2m4 0h1m1 0h1m1 0h2m1 0h1m1 0h5m1 0h14m1 0h5m1 0h4m1 0h1m1 0h1m3 0h5m1 0h5m1 0h1m1 0h1m1 0h1M264 453.5h1m2 0h4m1 0h1m1 0h4m3 0h4m3 0h2m6 0h2m4 0h1m1 0h1m14 0h1m2 0h1m11 0h1m7 0h1m13 0h2m1 0h1m3 0h1m3 0h1m3 0h2m1 0h1m3 0h1m1 0h1m1 0h1m1 0h1m1 0h3m2 0h2m8 0h2m2 0h8m1 0h27m1 0h5m3 0h3m1 0h3m2 0h1M264 454.5h9m1 0h1m1 0h1m1 0h1m2 0h1m3 0h2m1 0h1m1 0h1m1 0h4m1 0h2m1 0h3m17 0h1m4 0h1m5 0h1m6 0h1m7 0h1m8 0h1m3 0h1m4 0h1m3 0h1m1 0h1m3 0h1m1 0h3m2 0h1m2 0h2m4 0h1m2 0h1m2 0h10m1 0h11m1 0h22m1 0h2m1 0h1m1 0h1m1 0h2m1 0h2m2 0h1m2 0h1M264 455.5h4m2 0h8m3 0h2m1 0h3m1 0h1m2 0h1m1 0h2m7 0h1m27 0h1m5 0h1m11 0h1m2 0h2m2 0h1m16 0h1m1 0h2m2 0h1m1 0h3m1 0h1m4 0h2m8 0h20m2 0h14m1 0h9m1 0h1m3 0h2m2 0h1m2 0h1M263 456.5h10m2 0h3m1 0h2m2 0h5m1 0h2m1 0h3m2 0h1m5 0h1m1 0h1m7 0h1m5 0h1m29 0h1m4 0h2m1 0h1m2 0h1m6 0h2m1 0h1m3 0h1m2 0h1m1 0h1m4 0h1m1 0h1m2 0h1m3 0h1m2 0h1m1 0h2m1 0h4m1 0h9m1 0h21m1 0h5m1 0h2m1 0h1m1 0h2m2 0h2m2 0h1M262 457.5h1m1 0h16m1 0h1m3 0h4m1 0h2m3 0h3m8 0h1m3 0h2m8 0h1m9 0h2m4 0h1m10 0h1m3 0h1m18 0h3m5 0h2m1 0h1m8 0h1m1 0h2m2 0h1m1 0h2m1 0h3m1 0h10m1 0h5m1 0h12m1 0h5m3 0h3m1 0h4m1 0h2m1 0h2M255 458.5h1m7 0h7m2 0h2m1 0h3m1 0h4m1 0h1m1 0h1m2 0h1m2 0h2m4 0h2m3 0h2m2 0h1m7 0h1m9 0h2m2 0h1m4 0h1m2 0h1m2 0h1m23 0h1m11 0h1m2 0h1m13 0h1m1 0h3m1 0h1m1 0h1m1 0h1m2 0h10m1 0h11m1 0h15m1 0h4m1 0h2m1 0h1m1 0h2M252 459.5h1m1 0h1m4 0h1m2 0h8m1 0h1m2 0h2m1 0h1m1 0h2m2 0h1m1 0h1m3 0h1m7 0h1m2 0h1m4 0h1m14 0h1m19 0h2m12 0h1m14 0h2m15 0h1m6 0h7m2 0h9m1 0h32m1 0h2m2 0h1m1 0h2m1 0h1m1 0h2M255 460.5h1m1 0h1m1 0h1m1 0h1m1 0h10m1 0h2m1 0h1m2 0h2m1 0h1m2 0h1m1 0h2m1 0h2m10 0h2m6 0h1m3 0h1m2 0h1m7 0h1m2 0h1m6 0h2m2 0h1m5 0h1m7 0h1m10 0h1m1 0h1m3 0h1m11 0h1m2 0h1m7 0h2m1 0h2m2 0h25m1 0h2m1 0h2m1 0h5m1 0h4m1 0h1m1 0h1m1 0h7m2 0h1M256 461.5h4m1 0h8m1 0h8m1 0h1m4 0h2m1 0h2m15 0h2m3 0h1m5 0h1m13 0h1m20 0h1m6 0h2m2 0h1m6 0h1m3 0h1m5 0h2m1 0h2m1 0h1m1 0h1m1 0h2m5 0h3m1 0h29m1 0h2m1 0h2m1 0h1m1 0h3m2 0h3m1 0h1m1 0h4m3 0h2M252 462.5h1m2 0h2m1 0h3m1 0h8m1 0h2m2 0h3m1 0h1m4 0h2m2 0h1m15 0h1m2 0h1m3 0h1m3 0h1m2 0h1m3 0h1m12 0h1m7 0h1m4 0h1m2 0h1m13 0h1m3 0h1m15 0h1m3 0h1m6 0h3m3 0h1m1 0h5m1 0h1m1 0h1m1 0h1m1 0h7m1 0h11m1 0h5m1 0h1m1 0h2m1 0h3m1 0h2m1 0h2m2 0h2M252 463.5h1m2 0h1m1 0h11m1 0h5m2 0h2m1 0h3m5 0h1m2 0h1m14 0h1m12 0h1m2 0h1m8 0h1m14 0h1m2 0h1m15 0h1m17 0h1m3 0h1m2 0h2m3 0h1m1 0h1m1 0h3m1 0h5m1 0h6m1 0h20m1 0h5m2 0h3m1 0h7m1 0h1M250 464.5h1m1 0h2m1 0h13m1 0h5m1 0h1m3 0h2m6 0h2m7 0h2m13 0h1m1 0h1m11 0h1m5 0h1m2 0h1m4 0h1m1 0h1m2 0h1m2 0h2m1 0h1m1 0h2m1 0h2m12 0h1m8 0h2m12 0h2m3 0h2m1 0h24m1 0h4m1 0h9m1 0h5m1 0h1m1 0h1m1 0h3m1 0h1m3 0h1M249 465.5h1m1 0h1m1 0h12m1 0h2m1 0h1m4 0h3m1 0h3m1 0h1m1 0h1m2 0h1m2 0h1m5 0h1m3 0h1m3 0h2m1 0h1m7 0h1m7 0h2m14 0h1m9 0h1m1 0h1m4 0h2m1 0h1m23 0h1m11 0h1m1 0h8m2 0h2m1 0h11m1 0h6m1 0h9m1 0h1m1 0h3m1 0h3m1 0h3m1 0h2M249 466.5h4m1 0h11m1 0h5m1 0h1m3 0h1m1 0h2m2 0h1m2 0h1m5 0h1m4 0h2m1 0h2m7 0h2m1 0h1m5 0h1m4 0h1m18 0h1m7 0h1m14 0h1m1 0h1m5 0h1m9 0h1m9 0h1m2 0h2m2 0h1m2 0h10m1 0h7m1 0h4m1 0h8m1 0h6m2 0h4m2 0h1m1 0h4M247 467.5h1m2 0h2m1 0h12m1 0h1m2 0h6m1 0h1m1 0h1m3 0h2m5 0h1m7 0h1m7 0h1m7 0h1m8 0h1m10 0h1m8 0h1m9 0h1m1 0h1m1 0h1m3 0h1m6 0h1m22 0h1m1 0h1m1 0h5m2 0h15m1 0h11m1 0h13m2 0h1m1 0h1m2 0h3m1 0h3m2 0h1M249 468.5h14m1 0h1m1 0h4m1 0h2m1 0h3m5 0h1m19 0h1m4 0h1m10 0h2m8 0h1m2 0h1m2 0h1m1 0h1m10 0h1m2 0h1m7 0h1m14 0h1m1 0h1m8 0h2m8 0h2m2 0h16m1 0h16m1 0h2m1 0h1m1 0h6m1 0h2m2 0h2m2 0h4M246 469.5h1m1 0h17m3 0h5m1 0h2m8 0h1m11 0h1m1 0h1m1 0h1m1 0h1m11 0h1m4 0h2m18 0h1m1 0h2m14 0h1m3 0h1m3 0h1m15 0h1m2 0h1m5 0h1m3 0h3m3 0h3m1 0h16m1 0h1m1 0h4m1 0h1m1 0h10m1 0h3m1 0h1m2 0h4m1 0h1M246 470.5h1m1 0h2m1 0h16m1 0h1m1 0h3m1 0h1m2 0h1m20 0h1m10 0h2m7 0h1m4 0h1m6 0h1m1 0h1m10 0h1m5 0h1m6 0h1m14 0h1m5 0h1m2 0h1m3 0h1m4 0h1m3 0h5m1 0h24m1 0h13m1 0h3m2 0h2m1 0h2m3 0h2m1 0h1m1 0h1M244 471.5h2m3 0h1m1 0h15m1 0h1m2 0h1m1 0h1m9 0h2m4 0h2m2 0h1m2 0h1m20 0h1m4 0h1m2 0h1m2 0h1m4 0h1m3 0h2m1 0h1m1 0h2m9 0h1m5 0h1m2 0h1m4 0h1m1 0h1m4 0h1m1 0h1m2 0h2m1 0h1m1 0h1m8 0h2m1 0h2m1 0h36m2 0h1m3 0h1m1 0h8m1 0h3M245 472.5h1m1 0h17m1 0h4m1 0h2m2 0h1m3 0h1m1 0h1m2 0h1m10 0h1m4 0h1m9 0h1m6 0h1m20 0h1m2 0h1m6 0h1m2 0h4m19 0h1m5 0h1m8 0h1m1 0h1m3 0h2m1 0h2m1 0h6m1 0h30m1 0h4m3 0h1m1 0h1m3 0h2m4 0h1M245 473.5h18m3 0h1m2 0h1m4 0h1m10 0h1m4 0h1m1 0h1m4 0h1m2 0h1m11 0h1m1 0h1m14 0h1m3 0h2m2 0h2m11 0h1m2 0h1m8 0h1m2 0h1m12 0h1m1 0h1m9 0h1m1 0h1m1 0h6m1 0h3m1 0h1m1 0h13m1 0h5m1 0h6m1 0h3m3 0h1m2 0h1m1 0h1m2 0h4m1 0h1m2 0h1M246 474.5h15m1 0h3m1 0h1m1 0h1m8 0h3m8 0h1m10 0h2m2 0h1m5 0h1m7 0h2m1 0h1m11 0h1m2 0h1m9 0h1m10 0h1m8 0h1m16 0h1m7 0h4m2 0h3m1 0h9m1 0h1m2 0h2m1 0h25m1 0h4m1 0h2m1 0h2m3 0h1M247 475.5h19m2 0h2m13 0h1m3 0h1m7 0h1m10 0h1m4 0h1m14 0h1m3 0h1m6 0h1m7 0h2m3 0h1m4 0h1m1 0h2m9 0h1m5 0h1m9 0h1m4 0h1m1 0h1m2 0h16m1 0h9m2 0h14m2 0h4m1 0h2m1 0h4m4 0h1M246 476.5h11m1 0h7m1 0h1m3 0h1m13 0h1m3 0h1m5 0h1m15 0h1m3 0h1m1 0h2m1 0h2m3 0h1m1 0h1m4 0h1m14 0h1m2 0h1m12 0h1m22 0h1m1 0h2m2 0h2m1 0h3m1 0h15m1 0h5m2 0h8m1 0h1m2 0h2m1 0h1m1 0h1m1 0h2m1 0h1m1 0h3m1 0h3m1 0h1M246 477.5h2m2 0h14m2 0h1m20 0h1m1 0h1m13 0h1m3 0h1m8 0h1m2 0h1m3 0h1m6 0h1m8 0h1m3 0h1m2 0h1m24 0h2m14 0h1m1 0h1m1 0h2m1 0h8m1 0h5m1 0h7m1 0h18m1 0h4m1 0h4m1 0h2m1 0h2m3 0h1M245 478.5h2m1 0h16m1 0h2m11 0h1m17 0h2m26 0h1m2 0h1m15 0h1m19 0h1m7 0h2m9 0h1m5 0h1m1 0h2m2 0h7m1 0h7m1 0h1m1 0h10m1 0h9m1 0h6m3 0h2m1 0h4m1 0h1M247 479.5h3m1 0h16m5 0h1m3 0h1m7 0h1m5 0h1m2 0h1m3 0h1m4 0h1m4 0h1m15 0h3m4 0h1m5 0h1m9 0h1m6 0h1m3 0h1m5 0h1m17 0h1m5 0h1m1 0h2m4 0h4m1 0h1m1 0h3m1 0h1m1 0h11m1 0h1m1 0h10m1 0h6m1 0h1m1 0h2m2 0h1m1 0h1M247 480.5h17m4 0h1m3 0h1m9 0h1m4 0h1m4 0h1m8 0h1m2 0h1m55 0h1m10 0h1m9 0h2m5 0h5m1 0h4m1 0h18m1 0h2m2 0h12m2 0h2m1 0h1m1 0h2m1 0h6m1 0h1m1 0h1M246 481.5h1m1 0h4m1 0h10m22 0h1m11 0h1m8 0h1m1 0h1m8 0h1m2 0h1m6 0h1m7 0h3m15 0h1m6 0h1m3 0h1m3 0h1m10 0h1m5 0h1m2 0h2m3 0h1m1 0h9m1 0h4m2 0h5m2 0h2m1 0h4m1 0h5m1 0h4m1 0h2m2 0h2m1 0h1m2 0h1m1 0h1M248 482.5h14m2 0h1m1 0h1m13 0h1m1 0h1m13 0h1m1 0h2m7 0h2m2 0h1m1 0h1m5 0h1m1 0h1m3 0h1m22 0h1m1 0h1m1 0h1m10 0h2m10 0h1m1 0h1m4 0h1m1 0h1m1 0h1m3 0h2m1 0h2m1 0h11m1 0h4m1 0h2m1 0h1m2 0h3m1 0h15m3 0h1m1 0h1m1 0h2m1 0h2m1 0h1m2 0h1M246 483.5h1m1 0h15m2 0h1m2 0h1m11 0h1m12 0h1m18 0h1m12 0h1m1 0h1m2 0h2m2 0h1m14 0h1m1 0h1m13 0h1m1 0h1m16 0h1m3 0h3m1 0h2m2 0h21m1 0h1m1 0h6m1 0h5m2 0h1m2 0h9M246 484.5h17m2 0h1m9 0h1m7 0h1m2 0h2m3 0h1m4 0h1m11 0h1m3 0h1m4 0h1m3 0h1m2 0h1m7 0h2m4 0h1m4 0h1m2 0h1m7 0h1m1 0h1m9 0h1m2 0h1m8 0h2m3 0h1m1 0h2m1 0h2m1 0h1m1 0h6m2 0h32m2 0h3m2 0h1m3 0h5M245 485.5h1m2 0h14m6 0h1m12 0h1m1 0h1m7 0h2m8 0h1m5 0h1m3 0h1m6 0h1m8 0h1m4 0h1m5 0h1m16 0h1m20 0h1m1 0h1m3 0h1m4 0h1m1 0h1m1 0h5m1 0h9m2 0h22m1 0h1m1 0h1m3 0h5m3 0h4M246 486.5h2m2 0h14m3 0h1m9 0h2m11 0h1m19 0h2m10 0h1m18 0h1m2 0h1m3 0h1m3 0h1m6 0h1m14 0h1m3 0h1m3 0h1m2 0h1m1 0h5m1 0h9m1 0h10m1 0h3m1 0h1m1 0h1m1 0h1m2 0h5m1 0h2m5 0h2m1 0h7M247 487.5h14m12 0h2m14 0h1m7 0h2m6 0h2m6 0h1m5 0h3m2 0h1m5 0h2m2 0h2m2 0h1m8 0h2m4 0h2m3 0h1m3 0h1m6 0h1m1 0h1m5 0h1m6 0h2m1 0h2m1 0h10m1 0h8m1 0h10m1 0h10m1 0h2m1 0h1m1 0h2m1 0h5m1 0h4M247 488.5h15m1 0h1m1 0h1m6 0h1m9 0h2m2 0h1m9 0h1m6 0h1m6 0h2m8 0h1m1 0h1m4 0h1m2 0h2m7 0h1m21 0h1m14 0h1m6 0h1m3 0h2m1 0h15m1 0h14m1 0h9m2 0h1m1 0h1m1 0h3m2 0h3m1 0h3M250 489.5h11m2 0h1m20 0h1m7 0h1m3 0h1m5 0h1m3 0h1m7 0h1m9 0h1m5 0h1m1 0h1m4 0h1m1 0h1m19 0h1m1 0h1m6 0h1m4 0h1m10 0h3m1 0h16m1 0h2m1 0h1m1 0h2m1 0h19m1 0h1m2 0h3m1 0h4m2 0h1M244 490.5h1m3 0h13m10 0h1m10 0h1m1 0h1m40 0h1m3 0h1m21 0h1m1 0h1m2 0h1m8 0h1m5 0h1m10 0h2m1 0h1m1 0h1m1 0h7m1 0h17m2 0h14m1 0h2m2 0h7m1 0h2m2 0h2m1 0h1M248 491.5h2m1 0h10m2 0h1m2 0h2m7 0h1m2 0h1m17 0h1m10 0h1m3 0h1m16 0h1m2 0h1m1 0h1m5 0h1m4 0h1m8 0h1m5 0h1m1 0h1m1 0h1m2 0h1m3 0h1m2 0h1m3 0h1m4 0h2m1 0h11m1 0h3m1 0h3m1 0h17m1 0h7m2 0h5m4 0h3m1 0h1m1 0h1M249 492.5h12m1 0h1m5 0h1m10 0h1m21 0h1m2 0h1m17 0h1m10 0h1m6 0h1m5 0h1m9 0h2m8 0h1m6 0h1m3 0h2m2 0h2m2 0h3m2 0h6m1 0h29m1 0h2m1 0h6m1 0h2m1 0h2m1 0h1m1 0h1m3 0h1M247 493.5h1m1 0h2m1 0h9m1 0h2m14 0h1m7 0h1m1 0h1m2 0h2m7 0h1m2 0h1m4 0h1m16 0h1m3 0h2m2 0h1m7 0h1m5 0h1m9 0h1m3 0h1m4 0h2m7 0h1m6 0h1m2 0h2m1 0h9m1 0h10m1 0h7m1 0h8m2 0h1m3 0h3m3 0h2m1 0h2m2 0h4M247 494.5h12m6 0h1m4 0h1m1 0h1m4 0h1m8 0h2m10 0h1m3 0h1m5 0h1m5 0h1m10 0h1m2 0h1m5 0h1m2 0h1m2 0h1m4 0h1m4 0h1m1 0h1m3 0h1m1 0h1m3 0h2m4 0h1m8 0h1m1 0h1m1 0h3m4 0h6m1 0h17m1 0h10m1 0h5m1 0h2m2 0h1m1 0h4m1 0h3m3 0h1m1 0h1M245 495.5h1m1 0h13m3 0h1m11 0h1m1 0h1m5 0h2m15 0h1m4 0h1m2 0h1m13 0h1m13 0h1m1 0h1m18 0h1m6 0h1m3 0h2m1 0h1m5 0h1m2 0h1m1 0h2m1 0h4m1 0h10m1 0h1m1 0h5m1 0h16m1 0h6m2 0h5m2 0h5M247 496.5h14m1 0h1m1 0h2m1 0h2m7 0h2m2 0h2m9 0h1m7 0h1m28 0h1m1 0h2m5 0h2m2 0h1m15 0h2m14 0h1m2 0h1m4 0h5m2 0h2m1 0h34m2 0h2m1 0h2m1 0h6m1 0h7M249 497.5h12m2 0h1m18 0h2m8 0h1m5 0h1m3 0h1m10 0h2m3 0h1m14 0h1m2 0h1m5 0h1m7 0h1m3 0h1m7 0h1m13 0h1m1 0h1m1 0h1m4 0h6m1 0h5m1 0h4m2 0h12m1 0h7m1 0h1m1 0h1m2 0h4m1 0h2m1 0h3m2 0h1M246 498.5h1m2 0h13m5 0h2m10 0h1m6 0h1m12 0h1m13 0h1m1 0h1m20 0h1m2 0h1m3 0h3m23 0h1m3 0h1m2 0h1m1 0h3m1 0h8m1 0h19m1 0h1m1 0h5m2 0h2m1 0h2m1 0h9m1 0h5m1 0h2m3 0h1M247 499.5h1m1 0h1m1 0h8m2 0h2m1 0h1m1 0h1m1 0h2m16 0h1m3 0h1m4 0h1m2 0h1m3 0h1m3 0h1m5 0h1m1 0h2m9 0h1m4 0h1m5 0h2m13 0h1m1 0h2m17 0h2m1 0h1m1 0h1m3 0h8m3 0h6m1 0h9m1 0h14m1 0h1m1 0h1m1 0h2m1 0h1m3 0h1m1 0h4M247 500.5h14m10 0h1m8 0h1m16 0h1m4 0h2m1 0h1m9 0h2m2 0h1m8 0h2m2 0h1m7 0h1m7 0h1m2 0h1m6 0h1m2 0h1m12 0h4m1 0h1m1 0h1m1 0h1m1 0h10m1 0h8m1 0h3m1 0h5m1 0h1m1 0h4m1 0h1m1 0h1m2 0h8m1 0h1m1 0h1m1 0h3M247 501.5h1m1 0h13m2 0h1m1 0h1m5 0h1m1 0h2m2 0h1m2 0h1m3 0h1m5 0h1m12 0h1m22 0h2m17 0h1m5 0h1m12 0h2m8 0h2m4 0h20m1 0h16m1 0h6m1 0h1m1 0h1m3 0h2m2 0h1m1 0h1m1 0h4M246 502.5h19m1 0h2m2 0h1m2 0h1m3 0h2m11 0h1m10 0h1m2 0h1m8 0h1m5 0h1m1 0h1m2 0h1m7 0h2m2 0h2m7 0h1m7 0h1m5 0h1m6 0h1m5 0h1m1 0h1m4 0h1m1 0h1m1 0h3m1 0h14m1 0h7m2 0h2m1 0h2m1 0h4m2 0h1m1 0h3m1 0h1m1 0h8m1 0h2m5 0h1M247 503.5h19m1 0h1m1 0h1m1 0h1m7 0h1m4 0h1m6 0h1m4 0h2m11 0h3m3 0h1m3 0h1m8 0h1m11 0h2m10 0h1m2 0h1m12 0h1m2 0h1m2 0h1m4 0h1m2 0h3m1 0h2m1 0h1m1 0h5m2 0h4m1 0h17m1 0h1m2 0h11m1 0h2m1 0h1m1 0h1M246 504.5h19m10 0h1m1 0h1m1 0h1m6 0h1m1 0h1m5 0h1m1 0h1m4 0h1m5 0h1m5 0h1m8 0h1m12 0h1m8 0h1m10 0h2m7 0h2m3 0h4m1 0h2m2 0h2m1 0h22m1 0h3m1 0h12m1 0h6m1 0h5m1 0h5m2 0h1M243 505.5h9m1 0h11m20 0h1m10 0h1m14 0h1m8 0h1m1 0h1m4 0h2m9 0h1m3 0h1m25 0h4m1 0h1m1 0h2m1 0h1m1 0h9m1 0h5m1 0h5m2 0h10m1 0h6m4 0h2m1 0h1m1 0h1m1 0h2m2 0h1m1 0h1m1 0h3m3 0h1M245 506.5h19m12 0h1m8 0h1m1 0h1m14 0h1m3 0h1m26 0h1m3 0h1m6 0h1m1 0h1m2 0h1m3 0h1m4 0h2m3 0h1m1 0h1m2 0h3m1 0h3m2 0h4m1 0h12m1 0h2m2 0h1m1 0h2m1 0h12m1 0h4m1 0h2m1 0h2m1 0h7m1 0h2M243 507.5h1m2 0h18m7 0h1m2 0h1m13 0h1m4 0h1m2 0h1m4 0h1m8 0h1m2 0h1m9 0h1m3 0h1m14 0h1m14 0h1m8 0h3m1 0h7m1 0h1m1 0h2m2 0h23m4 0h8m3 0h4m2 0h2m3 0h1m4 0h1m4 0h1M243 508.5h1m2 0h17m3 0h1m5 0h1m11 0h1m3 0h2m1 0h1m17 0h1m2 0h1m5 0h1m7 0h1m4 0h1m7 0h1m12 0h3m8 0h1m2 0h1m1 0h1m3 0h1m1 0h11m1 0h2m1 0h3m1 0h9m1 0h11m1 0h2m1 0h1m1 0h4m1 0h1m3 0h2m1 0h2m2 0h3M241 509.5h4m1 0h17m10 0h1m3 0h1m1 0h1m4 0h1m2 0h1m15 0h1m2 0h1m19 0h2m15 0h2m2 0h1m2 0h1m2 0h1m5 0h1m2 0h1m2 0h2m1 0h2m1 0h2m1 0h1m1 0h7m1 0h13m1 0h7m2 0h12m3 0h1m3 0h2m1 0h1m1 0h2m2 0h2m1 0h1m2 0h1M244 510.5h1m1 0h17m11 0h3m10 0h1m5 0h1m2 0h1m3 0h2m3 0h1m6 0h1m7 0h1m8 0h1m1 0h1m9 0h1m2 0h2m8 0h1m3 0h2m3 0h3m1 0h1m5 0h2m1 0h1m1 0h9m1 0h2m1 0h10m1 0h7m1 0h9m2 0h4m1 0h1m1 0h1m1 0h4m2 0h2m1 0h1M243 511.5h2m1 0h17m1 0h1m12 0h1m4 0h1m4 0h1m7 0h1m19 0h1m1 0h1m5 0h1m10 0h1m7 0h1m1 0h1m2 0h1m2 0h1m9 0h3m2 0h1m2 0h1m1 0h3m2 0h23m3 0h1m1 0h7m1 0h4m1 0h1m1 0h1m1 0h3m1 0h1m1 0h2m3 0h1m1 0h2m2 0h1m1 0h1m1 0h1m1 0h1M244 512.5h1m1 0h2m1 0h13m5 0h3m5 0h1m26 0h1m1 0h1m7 0h1m14 0h1m2 0h1m3 0h1m4 0h1m3 0h1m2 0h1m3 0h2m2 0h2m2 0h2m1 0h1m2 0h3m1 0h2m1 0h2m2 0h6m1 0h6m1 0h1m1 0h4m1 0h17m1 0h1m3 0h4m2 0h1m2 0h5m2 0h1m1 0h3m2 0h1M242 513.5h3m1 0h15m1 0h2m2 0h2m3 0h3m4 0h1m3 0h2m11 0h1m39 0h1m3 0h1m2 0h1m1 0h1m5 0h1m2 0h2m6 0h1m2 0h1m1 0h3m1 0h1m1 0h11m1 0h12m1 0h4m1 0h7m1 0h7m1 0h4m1 0h1m1 0h3m1 0h3m1 0h1m1 0h3m1 0h1m2 0h1M241 514.5h2m1 0h14m3 0h1m2 0h1m18 0h1m2 0h1m8 0h2m1 0h1m1 0h1m12 0h1m3 0h1m9 0h1m11 0h2m7 0h1m4 0h3m8 0h2m1 0h1m3 0h1m1 0h18m1 0h10m1 0h13m1 0h3m2 0h3m3 0h1m1 0h1m1 0h3m1 0h3M241 515.5h18m1 0h1m6 0h1m7 0h1m1 0h2m7 0h2m13 0h1m1 0h1m1 0h2m5 0h1m7 0h3m10 0h1m7 0h1m4 0h1m2 0h2m1 0h1m9 0h1m1 0h1m2 0h9m1 0h16m2 0h18m1 0h2m1 0h3m1 0h1m3 0h2m1 0h2m3 0h3m2 0h1m1 0h1M240 516.5h1m1 0h1m1 0h15m1 0h1m10 0h1m1 0h1m5 0h1m7 0h1m5 0h1m4 0h1m5 0h1m4 0h1m7 0h1m4 0h3m3 0h1m2 0h2m1 0h1m3 0h1m1 0h2m11 0h1m7 0h2m3 0h19m1 0h1m1 0h8m1 0h17m1 0h6m1 0h1m4 0h1m2 0h1m2 0h3M238 517.5h1m4 0h14m5 0h1m14 0h1m2 0h1m14 0h1m11 0h1m3 0h1m3 0h1m12 0h1m18 0h1m2 0h1m1 0h1m3 0h2m1 0h2m4 0h1m1 0h2m3 0h3m1 0h31m1 0h8m3 0h2m1 0h5m3 0h3m1 0h1M241 518.5h17m3 0h3m2 0h1m3 0h1m3 0h1m5 0h1m1 0h1m13 0h2m2 0h1m3 0h3m2 0h1m4 0h1m3 0h1m4 0h1m3 0h1m7 0h1m1 0h1m4 0h1m1 0h2m6 0h1m7 0h3m1 0h1m4 0h3m1 0h4m1 0h1m1 0h5m1 0h7m1 0h9m1 0h9m1 0h5m1 0h2m1 0h1m2 0h1m1 0h3m1 0h3m2 0h1m3 0h1M237 519.5h1m1 0h1m1 0h15m10 0h1m3 0h1m12 0h1m2 0h1m6 0h1m4 0h1m4 0h1m11 0h1m4 0h1m1 0h1m2 0h1m2 0h1m8 0h1m5 0h1m5 0h2m5 0h1m2 0h1m1 0h1m1 0h1m1 0h1m2 0h1m1 0h4m1 0h1m1 0h1m1 0h1m1 0h13m1 0h3m1 0h3m1 0h7m1 0h3m1 0h1m2 0h1m2 0h5m1 0h1m2 0h1m1 0h1M235 520.5h1m3 0h1m1 0h2m1 0h11m2 0h1m1 0h1m17 0h1m20 0h2m2 0h2m9 0h1m3 0h1m7 0h1m2 0h1m6 0h1m2 0h1m7 0h1m10 0h1m2 0h3m1 0h2m1 0h14m1 0h2m1 0h1m1 0h3m2 0h3m1 0h7m1 0h2m1 0h2m1 0h1m1 0h4m1 0h2m1 0h4m3 0h2m2 0h2m3 0h2M238 521.5h1m1 0h16m1 0h1m2 0h1m2 0h1m10 0h2m6 0h1m11 0h1m5 0h1m4 0h1m5 0h1m3 0h1m2 0h1m12 0h1m4 0h1m5 0h1m1 0h1m5 0h1m2 0h1m7 0h5m1 0h1m1 0h16m1 0h9m1 0h3m2 0h2m1 0h7m2 0h1m1 0h1m1 0h1m3 0h1m2 0h5m1 0h4M239 522.5h17m2 0h1m11 0h1m10 0h1m8 0h2m6 0h1m12 0h1m5 0h1m5 0h1m11 0h1m7 0h3m3 0h1m1 0h1m2 0h1m5 0h1m1 0h2m1 0h16m1 0h8m1 0h13m1 0h2m1 0h4m4 0h6m1 0h11m1 0h1M239 523.5h12m1 0h1m14 0h1m11 0h1m10 0h1m22 0h1m4 0h2m4 0h1m4 0h1m4 0h1m5 0h1m10 0h1m1 0h1m4 0h2m2 0h1m1 0h20m1 0h14m1 0h2m1 0h6m1 0h4m1 0h5m1 0h4m1 0h4m1 0h2m2 0h1M237 524.5h12m4 0h1m15 0h2m4 0h1m22 0h1m2 0h2m1 0h1m2 0h1m21 0h1m19 0h1m9 0h1m8 0h5m1 0h6m1 0h15m1 0h6m1 0h5m2 0h2m1 0h3m1 0h1m4 0h1m1 0h1m2 0h3M236 525.5h3m1 0h9m22 0h1m2 0h1m6 0h2m6 0h1m12 0h1m10 0h1m1 0h1m3 0h1m2 0h1m13 0h3m7 0h1m11 0h1m2 0h1m2 0h2m1 0h7m1 0h34m1 0h1m1 0h1m1 0h5m1 0h2m1 0h7m4 0h1M235 526.5h1m1 0h1m3 0h6m4 0h1m4 0h1m1 0h1m9 0h3m13 0h1m3 0h1m11 0h1m8 0h1m5 0h1m8 0h1m1 0h3m1 0h1m18 0h1m4 0h1m7 0h4m1 0h4m1 0h14m1 0h6m1 0h14m1 0h2m2 0h4m1 0h1m1 0h2m2 0h3M235 527.5h1m1 0h1m3 0h6m14 0h1m31 0h1m9 0h1m1 0h1m10 0h1m6 0h1m2 0h2m2 0h1m6 0h1m4 0h2m5 0h2m2 0h1m5 0h1m2 0h3m1 0h3m1 0h4m2 0h7m1 0h23m1 0h2m3 0h3m1 0h2m1 0h3m1 0h6m2 0h1M234 528.5h1m3 0h8m2 0h1m5 0h1m7 0h1m1 0h1m4 0h1m20 0h1m2 0h1m3 0h1m3 0h1m2 0h1m8 0h1m3 0h2m19 0h1m7 0h1m7 0h2m1 0h1m1 0h1m4 0h25m1 0h3m1 0h8m1 0h3m1 0h2m1 0h1m2 0h1m1 0h2m11 0h1M235 529.5h9m8 0h1m4 0h2m4 0h1m6 0h1m1 0h1m10 0h1m13 0h1m7 0h2m3 0h1m3 0h1m1 0h1m2 0h1m6 0h1m9 0h1m13 0h1m10 0h2m1 0h10m2 0h7m1 0h1m1 0h1m1 0h12m1 0h5m2 0h1m1 0h2m1 0h1m2 0h2m3 0h1m1 0h1m2 0h1m1 0h1M233 530.5h2m1 0h7m4 0h1m7 0h1m6 0h1m2 0h1m5 0h2m11 0h1m12 0h1m3 0h2m1 0h1m1 0h1m4 0h1m11 0h1m8 0h1m17 0h1m5 0h1m1 0h1m3 0h6m1 0h2m1 0h3m1 0h8m1 0h2m1 0h16m1 0h1m1 0h14m1 0h3M236 531.5h6m19 0h1m6 0h1m2 0h1m2 0h1m21 0h1m1 0h1m27 0h1m3 0h1m11 0h1m4 0h1m5 0h1m2 0h1m1 0h5m1 0h13m1 0h26m5 0h1m1 0h1m1 0h2m2 0h4m2 0h2m4 0h2M233 532.5h5m1 0h2m27 0h1m1 0h1m1 0h1m8 0h1m4 0h3m3 0h1m14 0h1m3 0h1m6 0h1m19 0h1m1 0h2m7 0h1m6 0h1m1 0h2m1 0h1m1 0h1m1 0h6m1 0h3m1 0h28m1 0h1m1 0h1m5 0h2m1 0h3m2 0h1m2 0h1m1 0h2m3 0h1M233 533.5h5m1 0h2m14 0h1m3 0h1m18 0h1m5 0h1m12 0h1m3 0h1m1 0h1m8 0h1m20 0h1m1 0h1m17 0h1m2 0h1m1 0h1m1 0h1m3 0h5m1 0h21m1 0h9m1 0h2m2 0h5m1 0h6m1 0h2m2 0h1m4 0h1M233 534.5h1m1 0h2m1 0h2m26 0h1m1 0h1m5 0h1m2 0h2m4 0h7m15 0h1m2 0h1m18 0h1m3 0h1m2 0h1m1 0h1m6 0h1m7 0h1m1 0h1m4 0h1m2 0h12m1 0h3m1 0h8m1 0h8m1 0h3m2 0h1m4 0h1m1 0h4m6 0h2M230 535.5h1m4 0h1m1 0h2m3 0h1m22 0h2m4 0h1m7 0h12m3 0h4m3 0h1m1 0h1m1 0h1m17 0h1m21 0h1m10 0h1m1 0h5m1 0h20m1 0h4m1 0h1m1 0h6m1 0h1m1 0h6m3 0h3m1 0h1m4 0h1m5 0h1M237 536.5h1m24 0h2m1 0h1m1 0h1m2 0h3m1 0h17m19 0h1m2 0h2m4 0h1m9 0h1m16 0h1m2 0h1m7 0h1m1 0h1m1 0h2m1 0h36m6 0h1m2 0h2m1 0h2m1 0h1m4 0h1M237 537.5h2m23 0h1m3 0h4m1 0h21m17 0h1m9 0h1m3 0h1m9 0h2m16 0h1m1 0h1m3 0h1m2 0h3m1 0h7m1 0h26m3 0h1m1 0h1m1 0h5m2 0h2M238 538.5h1m13 0h1m1 0h1m1 0h1m2 0h13m1 0h18m2 0h1m9 0h1m2 0h1m8 0h2m1 0h2m7 0h1m23 0h1m2 0h1m1 0h3m1 0h1m1 0h9m1 0h2m1 0h3m1 0h21m1 0h5m4 0h3m2 0h1M255 539.5h2m1 0h33m8 0h1m5 0h1m3 0h1m6 0h1m8 0h1m1 0h2m5 0h1m1 0h2m13 0h1m9 0h1m1 0h1m1 0h1m1 0h2m1 0h14m1 0h10m2 0h2m1 0h1m1 0h3m1 0h3m3 0h2M251 540.5h2m1 0h3m1 0h31m3 0h1m6 0h1m7 0h2m8 0h1m1 0h2m18 0h1m20 0h2m1 0h14m2 0h16m1 0h1m2 0h1m4 0h2M248 541.5h1m1 0h1m1 0h6m1 0h1m1 0h28m2 0h1m6 0h1m15 0h1m8 0h1m1 0h1m12 0h1m14 0h2m2 0h4m1 0h10m1 0h4m1 0h13m1 0h2m1 0h4m4 0h1m1 0h4m1 0h1m1 0h1M247 542.5h8m1 0h2m1 0h32m17 0h1m8 0h4m4 0h1m4 0h1m2 0h1m5 0h1m4 0h1m5 0h2m6 0h1m3 0h19m1 0h9m1 0h4m1 0h1m3 0h1m1 0h1m5 0h2M247 543.5h3m2 0h1m1 0h1m1 0h34m4 0h1m60 0h2m1 0h1m2 0h8m1 0h2m1 0h5m1 0h1m1 0h8m1 0h3m1 0h4m2 0h3m5 0h1M247 544.5h1m2 0h1m1 0h4m2 0h1m1 0h31m19 0h1m29 0h1m3 0h1m5 0h2m2 0h3m4 0h4m1 0h2m1 0h1m1 0h16m1 0h4m1 0h1m2 0h1m1 0h2M250 545.5h4m1 0h2m2 0h1m1 0h29m3 0h2m9 0h1m7 0h1m5 0h1m3 0h1m1 0h1m6 0h2m1 0h1m3 0h1m2 0h1m8 0h1m3 0h7m1 0h5m1 0h7m1 0h14m1 0h2m3 0h1m2 0h1M245 546.5h1m2 0h6m2 0h1m1 0h1m3 0h28m2 0h1m9 0h2m1 0h1m8 0h1m2 0h2m3 0h1m1 0h1m5 0h1m5 0h1m5 0h2m1 0h1m4 0h1m4 0h4m1 0h7m1 0h17m1 0h3m3 0h2m1 0h1m10 0h1M247 547.5h1m1 0h4m1 0h7m1 0h29m1 0h1m2 0h1m4 0h1m3 0h1m1 0h1m2 0h3m7 0h1m1 0h1m3 0h2m1 0h1m19 0h1m4 0h1m2 0h30m1 0h3m2 0h1m1 0h3m9 0h1M245 548.5h2m2 0h1m2 0h1m2 0h4m1 0h29m2 0h1m1 0h1m8 0h1m8 0h1m3 0h1m3 0h1m2 0h1m5 0h1m12 0h1m10 0h1m2 0h1m1 0h22m1 0h4m1 0h1m2 0h5m2 0h1M244 549.5h1m2 0h6m1 0h4m1 0h6m1 0h22m2 0h1m16 0h2m8 0h1m2 0h1m5 0h1m9 0h2m4 0h1m4 0h1m2 0h2m5 0h9m1 0h4m1 0h9m1 0h4m1 0h2m6 0h1m2 0h1M247 550.5h1m1 0h2m1 0h2m1 0h1m1 0h30m1 0h1m7 0h1m2 0h1m13 0h1m8 0h1m2 0h1m15 0h1m8 0h1m1 0h3m1 0h1m1 0h20m1 0h5m1 0h1m8 0h1M248 551.5h2m1 0h5m1 0h31m5 0h2m9 0h1m1 0h1m2 0h1m10 0h1m6 0h1m5 0h1m6 0h1m1 0h1m4 0h1m2 0h1m2 0h2m1 0h1m2 0h18m1 0h2m6 0h1M247 552.5h1m1 0h3m2 0h2m2 0h29m1 0h1m13 0h1m7 0h1m20 0h1m10 0h1m1 0h1m7 0h5m2 0h13m1 0h6m1 0h1M247 553.5h3m1 0h29m1 0h6m12 0h1m5 0h1m6 0h2m2 0h1m5 0h1m9 0h1m13 0h1m7 0h4m1 0h7m1 0h11m12 0h1M244 554.5h1m3 0h3m1 0h6m1 0h27m1 0h1m9 0h1m4 0h1m2 0h2m10 0h1m8 0h2m3 0h2m3 0h1m9 0h3m2 0h3m2 0h17m1 0h1m6 0h1M246 555.5h3m1 0h1m1 0h34m1 0h1m2 0h1m3 0h1m4 0h1m1 0h1m11 0h1m1 0h1m9 0h1m18 0h1m2 0h1m3 0h2m2 0h14m1 0h1m1 0h1m6 0h1m1 0h1M245 556.5h6m1 0h1m1 0h32m3 0h1m1 0h1m4 0h2m5 0h1m3 0h1m1 0h1m7 0h1m6 0h1m14 0h1m8 0h4m1 0h2m1 0h10m1 0h3m1 0h1M248 557.5h2m1 0h3m3 0h29m1 0h1m8 0h1m2 0h1m1 0h1m6 0h1m2 0h1m14 0h1m2 0h1m2 0h1m3 0h1m6 0h1m1 0h2m2 0h1m2 0h2m1 0h11m4 0h1m3 0h1M244 558.5h1m1 0h10m1 0h29m4 0h1m2 0h1m12 0h1m3 0h1m7 0h1m4 0h1m3 0h1m2 0h1m14 0h2m2 0h3m2 0h13m2 0h2M245 559.5h1m2 0h4m4 0h1m1 0h1m1 0h27m26 0h1m1 0h1m3 0h1m1 0h2m8 0h1m6 0h1m1 0h1m2 0h1m1 0h1m1 0h4m2 0h15m3 0h1M246 560.5h4m1 0h2m3 0h1m2 0h1m1 0h25m13 0h1m3 0h1m19 0h2m6 0h1m1 0h1m5 0h1m3 0h1m5 0h17m1 0h1M248 561.5h5m1 0h6m2 0h23m2 0h1m9 0h1m8 0h1m1 0h1m1 0h1m12 0h1m1 0h2m6 0h2m1 0h2m1 0h2m1 0h3m1 0h2m1 0h18M246 562.5h1m1 0h2m2 0h2m4 0h1m1 0h25m5 0h1m1 0h1m1 0h1m12 0h2m5 0h1m5 0h7m1 0h2m4 0h1m1 0h8m1 0h17m1 0h2m3 0h1M243 563.5h1m2 0h4m1 0h1m1 0h7m2 0h22m7 0h1m7 0h1m15 0h45m1 0h2m2 0h3M245 564.5h1m1 0h4m1 0h2m2 0h3m1 0h25m5 0h1m5 0h1m2 0h1m4 0h2m2 0h1m5 0h2m1 0h43m1 0h1M214 565.5h1m31 0h3m1 0h1m1 0h2m1 0h3m1 0h26m3 0h1m8 0h1m5 0h1m3 0h1m4 0h3m1 0h45m1 0h1M249 566.5h6m2 0h1m1 0h25m2 0h1m1 0h2m1 0h3m2 0h1m2 0h1m11 0h1m2 0h45M244 567.5h1m2 0h2m1 0h8m1 0h9m1 0h16m16 0h1m3 0h2m2 0h1m1 0h49M248 568.5h10m1 0h1m1 0h1m1 0h3m2 0h16m1 0h1m1 0h1m3 0h2m10 0h1m4 0h49m1 0h3m1 0h1M249 569.5h1m1 0h3m1 0h1m1 0h1m2 0h5m1 0h22m16 0h1m1 0h49m1 0h1m4 0h1M245 570.5h1m2 0h1m2 0h7m1 0h1m1 0h2m1 0h3m2 0h1m1 0h7m1 0h5m10 0h1m7 0h1m3 0h45m1 0h4M246 571.5h1m1 0h2m2 0h9m1 0h2m1 0h2m2 0h1m3 0h5m1 0h2m1 0h2m1 0h1m4 0h1m1 0h1m3 0h1m5 0h1m2 0h12m1 0h13m1 0h19m1 0h4m1 0h1M249 572.5h5m1 0h3m1 0h3m1 0h2m1 0h1m1 0h3m4 0h1m1 0h6m2 0h1m3 0h1m11 0h1m1 0h50m3 0h1M249 573.5h8m1 0h1m2 0h2m2 0h3m1 0h1m1 0h1m1 0h3m1 0h2m10 0h1m2 0h1m5 0h2m1 0h27m1 0h2m1 0h2m1 0h3m1 0h14m1 0h1m1 0h1M248 574.5h2m1 0h1m1 0h1m1 0h12m3 0h1m2 0h2m3 0h1m1 0h1m2 0h2m1 0h1m13 0h19m1 0h3m1 0h5m1 0h2m1 0h1m1 0h2m1 0h2m1 0h2m2 0h2m1 0h5m1 0h2M246 575.5h1m3 0h1m3 0h5m2 0h1m1 0h4m1 0h1m3 0h1m8 0h2m1 0h1m5 0h1m2 0h1m3 0h10m1 0h13m1 0h2m2 0h2m2 0h2m4 0h3m1 0h3m1 0h3m2 0h4M249 576.5h1m7 0h2m1 0h1m3 0h2m1 0h1m4 0h1m8 0h1m14 0h8m1 0h6m1 0h1m3 0h8m1 0h3m4 0h1m4 0h1m1 0h2m3 0h1m1 0h6M251 577.5h1m5 0h2m2 0h2m10 0h1m9 0h1m12 0h8m1 0h11m1 0h3m2 0h1m1 0h1m5 0h1m2 0h1m2 0h1m1 0h6m1 0h2m3 0h1M259 578.5h1m4 0h1m16 0h1m14 0h5m1 0h2m1 0h4m1 0h1m4 0h1m4 0h1m1 0h2m13 0h2m3 0h1m2 0h2m5 0h1M261 579.5h1m33 0h5m1 0h2m1 0h2m1 0h1m1 0h5m6 0h1m22 0h1m3 0h1M294 580.5h7m1 0h2m3 0h3m37 0h1m2 0h1M285 581.5h1m7 0h4m1 0h4m4 0h1M290 582.5h4m1 0h1m1 0h4M291 583.5h8m1 0h1m1 0h2m5 0h1M289 584.5h9m1 0h2M287 585.5h3m1 0h1m2 0h1m1 0h1m1 0h1M288 586.5h2m6 0h1M289 587.5h1m2 0h2m1 0h1M288 588.5h1m2 0h1m4 0h1M289 589.5h2m1 0h1M284 590.5h2M286 591.5h1M289 592.5h1M287 593.5h1M276 595.5h1M270 602.5h1" stroke="#b3b3b3" stroke-width="1" fill="none" shape-rendering="crispEdges"/>
<path d="M427 354.5h1m1 0h1m6 0h1M417 355.5h2m2 0h1m2 0h1m13 0h1M417 356.5h2m1 0h2m9 0h1m3 0h2m5 0h1M419 357.5h2m1 0h1m1 0h2m9 0h2m3 0h1M394 358.5h1m16 0h1m3 0h2m2 0h3m2 0h2m5 0h3m2 0h1m2 0h1m3 0h1m1 0h2M412 359.5h3m1 0h2m1 0h1m1 0h1m1 0h1m8 0h2m11 0h3M412 360.5h2m2 0h8m13 0h1M393 361.5h1m12 0h1m2 0h7m2 0h5m4 0h1m19 0h1M397 362.5h1m11 0h6m1 0h2m5 0h1m23 0h1m4 0h2M384 363.5h1m23 0h3m2 0h2m3 0h1m1 0h1m1 0h3m12 0h1m11 0h1m2 0h2M395 364.5h1m12 0h1m1 0h1m1 0h6m1 0h1m1 0h1m6 0h1m4 0h2m14 0h1M383 365.5h1m14 0h1m9 0h1m2 0h3m1 0h1m3 0h2m12 0h2m8 0h2m3 0h1M409 366.5h3m1 0h1m1 0h1m1 0h1m2 0h2m1 0h1m4 0h2M398 367.5h1m7 0h2m1 0h3m1 0h2m6 0h5m2 0h2m9 0h2m16 0h1m1 0h3M408 368.5h5m2 0h3m1 0h1m1 0h2m1 0h2m7 0h1m5 0h2m16 0h1m1 0h3M406 369.5h3m1 0h4m1 0h1m5 0h1m3 0h2M408 370.5h2m1 0h1m1 0h2m7 0h1m2 0h2m8 0h2m8 0h1m11 0h2M345 371.5h1m38 0h1m13 0h2m6 0h1m5 0h3m3 0h2m1 0h3m11 0h2m16 0h1m3 0h2M377 372.5h1m28 0h2m1 0h6m1 0h4m1 0h3m6 0h1m3 0h2m10 0h1m14 0h2M332 373.5h1m18 0h1m13 0h1m19 0h1m20 0h7m2 0h1m1 0h7m10 0h2m25 0h2m4 0h1M341 374.5h1m14 0h1m25 0h1m16 0h1m1 0h1m4 0h7m1 0h1m1 0h1m2 0h3m2 0h1m8 0h2m2 0h2m28 0h1M385 375.5h1m7 0h1m10 0h2m2 0h1m2 0h2m1 0h1m1 0h1m1 0h1m14 0h2m2 0h2M405 376.5h3m1 0h7m1 0h2m1 0h1m1 0h1m2 0h1M341 377.5h1m64 0h1m4 0h2m1 0h2m2 0h3m7 0h2m9 0h2m26 0h1M373 378.5h1m32 0h1m3 0h3m6 0h1m2 0h1m3 0h1m1 0h2m9 0h2m26 0h2M337 379.5h1m67 0h8m2 0h3m1 0h3m45 0h2M344 380.5h2m36 0h1m22 0h1m1 0h1m3 0h12m2 0h2m8 0h1m29 0h1m3 0h1M400 381.5h1m1 0h1m1 0h1m3 0h1m2 0h3m2 0h2m1 0h3m3 0h2m29 0h2M331 382.5h1m74 0h2m1 0h3m3 0h1m1 0h5m34 0h2m5 0h1m3 0h3M398 383.5h1m8 0h1m1 0h1m2 0h6m2 0h3m1 0h2m41 0h2m2 0h1M388 384.5h1m9 0h1m4 0h3m1 0h2m4 0h1m2 0h5m1 0h1m1 0h2M355 385.5h1m32 0h1m10 0h2m3 0h1m2 0h2m1 0h7m2 0h2m3 0h2m44 0h1M372 386.5h1m10 0h1m1 0h1m13 0h2m6 0h5m3 0h6m3 0h2m11 0h1m14 0h1m11 0h2m1 0h1M320 387.5h1m76 0h3m5 0h3m1 0h6m1 0h4m2 0h1m6 0h1m17 0h1m8 0h1m7 0h2m4 0h1M325 388.5h1m35 0h1m35 0h1m2 0h2m7 0h4m4 0h5m21 0h1M392 389.5h1m5 0h1m5 0h2m3 0h2m3 0h1m1 0h1m4 0h1m31 0h1m5 0h1M362 390.5h1m8 0h1m7 0h1m8 0h3m4 0h1m1 0h1m1 0h1m1 0h2m2 0h3m1 0h1m1 0h2m1 0h2m5 0h1m15 0h2M338 391.5h1m53 0h1m5 0h1m1 0h1m3 0h1m1 0h1m2 0h5m1 0h2m2 0h1m1 0h1m5 0h2m8 0h2m10 0h1m4 0h1m10 0h1M339 392.5h1m28 0h1m20 0h2m1 0h3m3 0h1m2 0h1m3 0h1m1 0h1m2 0h3m1 0h1m2 0h2m2 0h1m5 0h2m12 0h2m21 0h2M333 393.5h1m46 0h1m6 0h2m2 0h1m2 0h3m1 0h1m1 0h1m3 0h7m4 0h2m2 0h3m19 0h2m21 0h2m2 0h1M335 394.5h1m47 0h1m1 0h1m2 0h1m4 0h1m4 0h1m5 0h2m1 0h2m1 0h1m2 0h1m3 0h5M364 395.5h1m14 0h1m2 0h1m1 0h1m2 0h1m2 0h1m1 0h1m1 0h1m1 0h1m2 0h1m7 0h1m2 0h1m2 0h1m1 0h1m1 0h5m44 0h1M326 396.5h1m14 0h1m12 0h1m7 0h1m11 0h1m2 0h1m1 0h1m1 0h1m1 0h1m1 0h2m2 0h1m3 0h1m6 0h2m2 0h1m2 0h1m1 0h2m1 0h1m2 0h2m2 0h1m1 0h2m21 0h1M365 397.5h1m2 0h1m6 0h1m6 0h1m2 0h1m3 0h1m5 0h1m5 0h2m2 0h1m3 0h2m1 0h2m5 0h4m1 0h1M369 398.5h2m8 0h1m6 0h1m1 0h1m6 0h2m1 0h2m4 0h1m1 0h2m1 0h1m1 0h1m2 0h1m2 0h2m2 0h1m14 0h1m22 0h1M334 399.5h1m1 0h1m24 0h1m3 0h1m6 0h1m1 0h4m1 0h3m7 0h1m14 0h1m2 0h1m5 0h1m1 0h1m1 0h2m1 0h2m3 0h2m3 0h2m16 0h2m6 0h2M367 400.5h1m1 0h1m2 0h1m3 0h1m9 0h3m1 0h1m1 0h1m1 0h1m10 0h1m4 0h2m2 0h2m1 0h1m1 0h1m1 0h1m3 0h2m4 0h1m16 0h2m6 0h2M334 401.5h1m8 0h1m7 0h1m7 0h1m4 0h1m2 0h1m2 0h1m1 0h1m3 0h1m3 0h1m3 0h1m2 0h2m5 0h1m2 0h6m3 0h3m1 0h6m2 0h2m6 0h2m23 0h1M341 402.5h1m12 0h2m2 0h1m1 0h1m6 0h1m3 0h2m6 0h1m6 0h1m2 0h2m2 0h1m1 0h1m6 0h1m1 0h5m1 0h3m1 0h2m5 0h1m2 0h4m5 0h2m20 0h1m9 0h1M346 403.5h1m3 0h2m11 0h1m31 0h1m6 0h1m5 0h2m2 0h1m1 0h4m1 0h3m2 0h4m3 0h4m2 0h2m23 0h1m1 0h1M349 404.5h1m1 0h1m7 0h2m6 0h1m1 0h1m5 0h4m1 0h1m3 0h1m1 0h1m6 0h1m6 0h3m2 0h1m2 0h2m3 0h5m1 0h1m1 0h1m2 0h2m7 0h3m1 0h2m13 0h1m2 0h1m8 0h2M337 405.5h1m1 0h1m1 0h1m8 0h1m9 0h1m2 0h1m1 0h2m5 0h1m3 0h1m1 0h1m10 0h1m8 0h2m2 0h1m3 0h5m2 0h2m2 0h2m14 0h3m7 0h1m5 0h1m10 0h2m2 0h2M341 406.5h1m10 0h1m2 0h2m6 0h1m1 0h1m3 0h1m1 0h1m2 0h2m5 0h1m11 0h1m4 0h1m3 0h1m1 0h3m2 0h2m1 0h1m1 0h1m1 0h1m1 0h5m4 0h1m1 0h1m7 0h2M336 407.5h1m7 0h1m4 0h1m1 0h4m1 0h1m8 0h1m2 0h2m1 0h1m3 0h1m3 0h1m1 0h1m3 0h2m1 0h1m7 0h1m1 0h1m2 0h1m1 0h2m1 0h1m1 0h2m1 0h1m5 0h3m1 0h3m13 0h2m18 0h1M334 408.5h1m2 0h3m6 0h1m1 0h1m2 0h1m6 0h1m2 0h1m3 0h1m2 0h1m1 0h1m4 0h2m5 0h1m5 0h1m1 0h1m3 0h1m1 0h4m1 0h2m1 0h4m8 0h1m3 0h1m1 0h1m1 0h1m2 0h1m1 0h1m1 0h1m6 0h6m9 0h2m2 0h2M331 409.5h1m10 0h1m1 0h1m2 0h2m4 0h3m2 0h1m10 0h1m1 0h1m4 0h1m3 0h1m10 0h1m5 0h1m1 0h2m1 0h7m1 0h4m2 0h1m2 0h2m2 0h1m16 0h4m9 0h2m2 0h2M338 410.5h2m6 0h3m1 0h2m1 0h1m1 0h1m2 0h2m7 0h2m3 0h2m2 0h1m1 0h1m6 0h5m1 0h2m1 0h1m5 0h2m2 0h2m1 0h1m2 0h1m2 0h1m1 0h1m1 0h2m10 0h1m6 0h1m12 0h1m8 0h1M330 411.5h1m2 0h1m1 0h2m1 0h2m5 0h5m4 0h1m2 0h1m5 0h1m2 0h1m1 0h1m6 0h4m2 0h4m1 0h1m3 0h1m4 0h1m1 0h6m1 0h4m1 0h1m1 0h1m2 0h1m1 0h2m2 0h1m1 0h1m8 0h1m14 0h1m8 0h1m5 0h2M331 412.5h1m1 0h1m4 0h1m10 0h3m3 0h1m6 0h1m4 0h1m1 0h1m1 0h1m6 0h6m1 0h4m1 0h10m1 0h2m1 0h1m1 0h1m2 0h2m3 0h4m1 0h1m1 0h1m2 0h1m1 0h1m1 0h2m1 0h1m1 0h1m9 0h1m6 0h2m9 0h2M331 413.5h1m1 0h1m6 0h1m2 0h1m1 0h1m10 0h1m4 0h1m3 0h3m1 0h1m3 0h3m2 0h1m3 0h3m2 0h1m1 0h1m1 0h1m1 0h1m1 0h1m1 0h3m1 0h2m1 0h4m1 0h3m4 0h3m11 0h1m2 0h1m7 0h1m1 0h1m1 0h2m2 0h3M329 414.5h1m2 0h1m10 0h1m7 0h2m3 0h1m7 0h3m2 0h1m2 0h2m1 0h2m1 0h7m3 0h1m1 0h2m2 0h1m2 0h1m2 0h1m1 0h2m1 0h1m1 0h1m11 0h1m11 0h1m1 0h1m5 0h1m3 0h1m1 0h2m2 0h2M340 415.5h1m3 0h1m5 0h2m3 0h3m1 0h1m3 0h1m3 0h2m1 0h2m1 0h2m1 0h2m1 0h2m9 0h1m1 0h1m4 0h1m1 0h1m1 0h1m1 0h1m1 0h2m1 0h3m5 0h1m6 0h2m3 0h2M328 416.5h1m4 0h1m2 0h1m6 0h1m1 0h2m4 0h2m3 0h2m2 0h2m4 0h3m1 0h2m2 0h2m1 0h1m3 0h2m3 0h1m1 0h1m1 0h2m1 0h2m1 0h1m2 0h2m2 0h1m3 0h1m1 0h1m1 0h2m1 0h1m2 0h3m5 0h1m7 0h1m3 0h2m2 0h2m2 0h1M329 417.5h1m2 0h3m2 0h1m15 0h1m1 0h1m2 0h2m1 0h2m5 0h1m1 0h1m1 0h1m1 0h2m2 0h1m1 0h1m1 0h3m2 0h5m1 0h1m1 0h1m1 0h1m5 0h7m21 0h1m24 0h1m1 0h2M328 418.5h1m8 0h1m8 0h1m3 0h1m1 0h1m1 0h4m5 0h1m2 0h2m1 0h3m1 0h1m1 0h10m1 0h5m2 0h2m2 0h3m2 0h2m2 0h3m3 0h1m1 0h2m1 0h1m10 0h2m28 0h2M329 419.5h3m2 0h1m2 0h1m2 0h1m3 0h1m10 0h2m1 0h3m2 0h5m2 0h1m1 0h5m1 0h1m1 0h6m1 0h3m2 0h1m1 0h2m6 0h4m1 0h3m2 0h1m3 0h1m16 0h1m8 0h1m6 0h1M328 420.5h1m8 0h1m1 0h1m6 0h1m1 0h3m2 0h1m1 0h2m1 0h3m1 0h3m1 0h1m1 0h1m1 0h1m1 0h1m1 0h4m1 0h4m2 0h3m3 0h2m2 0h2m4 0h2m1 0h1m1 0h1m1 0h2m1 0h2m1 0h1m1 0h1M326 421.5h3m1 0h1m3 0h1m13 0h3m2 0h2m1 0h2m4 0h4m3 0h1m2 0h1m2 0h2m2 0h1m3 0h1m7 0h1m1 0h2m4 0h3m2 0h1m2 0h4m3 0h2m23 0h1m15 0h1M326 422.5h1m2 0h1m3 0h1m2 0h2m1 0h2m1 0h3m1 0h2m1 0h1m2 0h2m3 0h2m2 0h1m2 0h4m2 0h6m1 0h3m1 0h2m1 0h3m1 0h2m2 0h3m3 0h1m5 0h1m1 0h1m1 0h2m3 0h1m35 0h1m7 0h1M324 423.5h2m1 0h1m1 0h1m1 0h1m6 0h1m3 0h8m6 0h2m1 0h1m2 0h2m1 0h3m1 0h1m2 0h2m1 0h3m1 0h5m3 0h5m1 0h5m1 0h1m1 0h4m3 0h1m4 0h1M324 424.5h3m5 0h2m1 0h3m1 0h1m1 0h5m1 0h1m1 0h2m2 0h4m2 0h9m2 0h5m5 0h2m2 0h1m1 0h5m1 0h2m1 0h4m1 0h3m2 0h4m1 0h3M321 425.5h1m3 0h2m7 0h1m3 0h4m1 0h3m1 0h5m2 0h1m1 0h1m1 0h2m1 0h3m1 0h4m2 0h1m1 0h2m2 0h1m1 0h1m3 0h6m6 0h1m1 0h3m3 0h1m4 0h3m4 0h1M318 426.5h1m4 0h2m2 0h1m10 0h1m1 0h8m1 0h4m2 0h2m7 0h1m3 0h1m1 0h1m1 0h1m2 0h2m4 0h2m2 0h3m1 0h8m3 0h5m1 0h2m1 0h2m1 0h1M297 427.5h1m4 0h2m1 0h1m3 0h1m4 0h1m1 0h2m3 0h1m4 0h2m5 0h1m4 0h3m1 0h3m1 0h1m2 0h1m1 0h1m1 0h4m1 0h9m2 0h1m1 0h9m1 0h1m2 0h4m2 0h1m1 0h1m1 0h2m1 0h1m1 0h2m1 0h1m4 0h5m2 0h1m31 0h1m8 0h1M296 428.5h2m2 0h2m1 0h1m2 0h1m7 0h4m3 0h2m1 0h1m6 0h2m1 0h3m1 0h1m1 0h1m3 0h2m1 0h4m2 0h6m3 0h2m1 0h2m2 0h3m1 0h7m1 0h3m3 0h3m3 0h2m3 0h4m1 0h1m1 0h3m1 0h1m2 0h1m1 0h2M297 429.5h2m3 0h1m12 0h1m3 0h1m1 0h1m5 0h1m1 0h1m1 0h3m1 0h2m2 0h4m1 0h2m1 0h1m1 0h2m2 0h1m5 0h1m1 0h3m4 0h1m1 0h1m1 0h1m2 0h1m2 0h1m1 0h1m1 0h1m1 0h1m1 0h1m2 0h1m1 0h2m1 0h11m1 0h1m1 0h2m29 0h1M296 430.5h1m1 0h1m2 0h1m6 0h1m1 0h1m4 0h2m2 0h1m5 0h1m1 0h1m2 0h1m3 0h3m1 0h5m1 0h3m3 0h2m1 0h2m3 0h4m1 0h5m1 0h2m1 0h1m1 0h3m1 0h1m3 0h1m2 0h3m4 0h3m1 0h1m3 0h6m3 0h4m9 0h1m23 0h1M293 431.5h1m2 0h2m1 0h6m4 0h1m3 0h1m1 0h1m7 0h2m1 0h1m3 0h4m1 0h1m1 0h5m2 0h1m2 0h1m1 0h1m1 0h5m1 0h1m1 0h1m1 0h2m4 0h1m3 0h1m1 0h1m2 0h3m3 0h3m1 0h3m2 0h1m1 0h1m1 0h1m1 0h2m2 0h5m2 0h3m1 0h1m1 0h1m10 0h2m2 0h1M290 432.5h1m1 0h1m1 0h2m1 0h1m4 0h1m2 0h1m3 0h2m2 0h2m3 0h2m5 0h2m1 0h4m1 0h2m2 0h6m1 0h2m1 0h1m2 0h1m1 0h2m2 0h2m1 0h1m1 0h2m2 0h1m1 0h4m1 0h1m2 0h2m2 0h1m3 0h1m3 0h1m3 0h2m2 0h1m1 0h3m2 0h3m1 0h1m3 0h3m16 0h1m13 0h1m8 0h1m1 0h1M294 433.5h3m1 0h1m12 0h1m5 0h1m2 0h1m2 0h2m1 0h3m1 0h3m6 0h1m3 0h1m1 0h1m1 0h3m1 0h2m1 0h1m1 0h1m2 0h1m2 0h3m2 0h1m3 0h3m6 0h2m1 0h3m4 0h2m2 0h3m3 0h1m1 0h2m1 0h1m1 0h2m1 0h1m2 0h1m27 0h1m5 0h1m5 0h2M292 434.5h1m1 0h3m3 0h2m10 0h1m2 0h1m6 0h6m1 0h4m1 0h2m5 0h1m3 0h2m1 0h2m1 0h1m3 0h2m4 0h1m1 0h2m2 0h1m1 0h1m1 0h5m2 0h1m1 0h1m3 0h3m2 0h1m1 0h1m4 0h3m5 0h3m1 0h1m2 0h1m16 0h1m1 0h2M287 435.5h1m3 0h1m1 0h4m1 0h1m5 0h2m3 0h2m12 0h1m1 0h1m2 0h9m3 0h1m1 0h2m3 0h1m1 0h1m4 0h1m1 0h5m3 0h1m1 0h1m1 0h1m2 0h5m2 0h2m2 0h1m6 0h1m1 0h2m4 0h1m3 0h6m2 0h1m3 0h1m26 0h1m6 0h1M289 436.5h1m1 0h2m2 0h1m1 0h2m1 0h1m1 0h1m15 0h1m3 0h9m1 0h1m1 0h1m1 0h4m2 0h2m6 0h2m4 0h1m1 0h2m2 0h7m1 0h6m1 0h4m1 0h1m2 0h1m3 0h4m1 0h1m2 0h2m2 0h2m4 0h5m4 0h1m10 0h1m6 0h1m20 0h1M287 437.5h1m1 0h1m1 0h3m4 0h1m5 0h3m2 0h1m1 0h1m3 0h1m3 0h6m1 0h7m1 0h2m1 0h1m1 0h2m7 0h1m3 0h1m4 0h1m1 0h2m1 0h5m3 0h2m3 0h2m1 0h3m2 0h1m1 0h2m2 0h5m3 0h1m3 0h1m1 0h2m3 0h2m13 0h1m13 0h1M287 438.5h1m1 0h1m2 0h1m3 0h1m1 0h1m3 0h1m3 0h2m5 0h1m2 0h1m1 0h5m1 0h15m3 0h1m1 0h2m1 0h2m1 0h2m1 0h2m1 0h2m1 0h1m2 0h1m3 0h3m1 0h5m3 0h2m1 0h2m4 0h1m3 0h1m1 0h1m2 0h2m2 0h2m1 0h1m1 0h4m1 0h2m12 0h1m4 0h1m10 0h1m7 0h2M287 439.5h1m2 0h1m1 0h2m3 0h1m2 0h1m4 0h1m2 0h2m2 0h2m1 0h1m2 0h12m1 0h6m1 0h2m1 0h1m5 0h2m1 0h4m1 0h2m3 0h1m1 0h1m3 0h5m1 0h1m1 0h1m2 0h2m1 0h1m4 0h1m2 0h2m1 0h2m1 0h2m2 0h2m1 0h1m2 0h1m1 0h2m2 0h2m20 0h1M282 440.5h1m2 0h4m4 0h2m2 0h4m2 0h1m1 0h1m1 0h2m2 0h1m5 0h1m1 0h7m1 0h6m2 0h3m1 0h6m1 0h4m1 0h3m2 0h1m2 0h1m3 0h2m3 0h1m1 0h1m2 0h3m1 0h1m3 0h1m1 0h1m1 0h2m2 0h2m1 0h1m1 0h1m1 0h1m4 0h3m3 0h1m7 0h1m18 0h1m13 0h1M285 441.5h1m2 0h1m1 0h2m3 0h1m1 0h1m2 0h2m2 0h1m1 0h1m1 0h2m1 0h1m1 0h5m1 0h2m1 0h2m3 0h2m1 0h2m3 0h3m1 0h1m2 0h3m1 0h2m6 0h1m1 0h2m1 0h2m1 0h1m1 0h6m1 0h1m3 0h2m4 0h1m1 0h1m3 0h3m2 0h1m1 0h2m2 0h1m1 0h2m2 0h3m2 0h1m12 0h1m22 0h1M284 442.5h1m2 0h1m3 0h1m3 0h3m2 0h1m6 0h1m1 0h1m1 0h2m1 0h16m1 0h9m1 0h1m3 0h2m1 0h5m1 0h2m1 0h9m1 0h2m2 0h2m2 0h1m1 0h2m1 0h2m2 0h2m1 0h2m1 0h1m1 0h4m1 0h1m1 0h3m1 0h3m4 0h1m14 0h1m23 0h1m3 0h1M278 443.5h1m8 0h1m3 0h4m7 0h1m2 0h2m2 0h3m1 0h4m3 0h2m1 0h3m1 0h19m1 0h2m1 0h2m1 0h2m2 0h2m1 0h1m3 0h1m1 0h2m1 0h1m6 0h1m2 0h4m1 0h1m2 0h2m4 0h5m3 0h1m1 0h3m1 0h1m1 0h1m5 0h1m39 0h1m2 0h1M279 444.5h1m1 0h1m2 0h2m3 0h1m1 0h11m2 0h1m2 0h2m1 0h1m2 0h14m2 0h4m1 0h4m1 0h1m1 0h4m1 0h2m2 0h1m1 0h2m2 0h2m2 0h1m3 0h1m5 0h1m1 0h5m2 0h1m3 0h1m1 0h2m1 0h2m1 0h2m1 0h5m1 0h1m1 0h1m5 0h1m21 0h1m1 0h2m7 0h1m3 0h1M280 445.5h2m1 0h2m3 0h2m2 0h4m1 0h1m1 0h1m4 0h2m1 0h1m2 0h4m1 0h3m2 0h5m1 0h6m1 0h1m2 0h14m1 0h1m2 0h1m3 0h4m1 0h1m1 0h1m1 0h2m2 0h1m1 0h1m4 0h3m1 0h1m2 0h2m2 0h1m1 0h2m1 0h2m1 0h5m1 0h2m1 0h1m5 0h1m25 0h1m4 0h1M277 446.5h1m1 0h2m1 0h1m1 0h2m1 0h1m4 0h1m1 0h3m1 0h4m1 0h1m1 0h2m2 0h6m1 0h1m1 0h9m1 0h5m1 0h4m1 0h3m1 0h2m1 0h1m1 0h1m1 0h2m1 0h1m1 0h1m1 0h1m2 0h1m4 0h4m2 0h1m3 0h2m2 0h3m1 0h1m1 0h2m2 0h2m1 0h1m1 0h2m1 0h4m3 0h1m13 0h1m10 0h1m7 0h1m1 0h1M277 447.5h1m3 0h1m9 0h1m4 0h1m2 0h1m1 0h4m2 0h4m1 0h15m1 0h2m1 0h3m2 0h4m1 0h10m1 0h1m1 0h2m1 0h2m3 0h1m1 0h3m2 0h5m3 0h1m1 0h1m2 0h2m1 0h2m1 0h1m1 0h3m1 0h7m4 0h1m2 0h1m5 0h1m4 0h1m29 0h1M277 448.5h1m2 0h2m2 0h1m1 0h4m4 0h2m2 0h1m2 0h1m1 0h1m1 0h1m2 0h1m1 0h5m1 0h5m1 0h2m1 0h3m1 0h5m1 0h2m1 0h10m2 0h1m1 0h1m1 0h3m2 0h1m4 0h3m2 0h6m3 0h6m1 0h4m3 0h1m2 0h2m1 0h1m3 0h2m3 0h1m3 0h1m20 0h3m3 0h1m4 0h1M277 449.5h1m3 0h3m2 0h2m1 0h1m9 0h1m1 0h2m1 0h1m1 0h29m1 0h4m1 0h1m1 0h13m1 0h2m3 0h4m2 0h1m2 0h1m1 0h1m2 0h2m1 0h2m1 0h2m1 0h2m1 0h4m1 0h5m1 0h1m5 0h1m24 0h1m16 0h1M278 450.5h2m2 0h1m1 0h1m4 0h4m3 0h2m2 0h1m2 0h11m2 0h6m1 0h11m1 0h5m1 0h3m1 0h2m2 0h6m1 0h4m1 0h1m1 0h3m1 0h6m2 0h1m1 0h4m2 0h3m2 0h1m1 0h1m2 0h2m1 0h2m1 0h1m1 0h1m2 0h1m2 0h1m3 0h1m3 0h1m11 0h1m17 0h1m8 0h1M274 451.5h2m2 0h2m1 0h2m1 0h1m3 0h1m1 0h1m1 0h1m6 0h2m1 0h1m2 0h6m2 0h6m1 0h5m2 0h2m2 0h10m1 0h8m1 0h5m1 0h7m2 0h6m2 0h6m1 0h4m4 0h2m3 0h5m1 0h1m3 0h1m10 0h1m14 0h1m1 0h1M278 452.5h6m2 0h1m2 0h1m3 0h1m1 0h1m2 0h1m1 0h8m1 0h2m1 0h6m1 0h8m1 0h11m2 0h1m1 0h6m2 0h4m1 0h1m1 0h6m1 0h7m1 0h2m2 0h4m2 0h4m1 0h1m1 0h2m2 0h4m1 0h1m1 0h1m2 0h1m1 0h1m5 0h1m14 0h1m5 0h1m4 0h1m4 0h2M273 453.5h1m4 0h3m4 0h3m2 0h6m2 0h4m1 0h1m1 0h14m1 0h2m1 0h11m1 0h7m1 0h13m2 0h1m1 0h3m1 0h3m1 0h3m2 0h1m1 0h3m1 0h1m1 0h1m1 0h1m1 0h1m3 0h2m2 0h7m3 0h2m8 0h1m27 0h1M273 454.5h1m1 0h1m1 0h1m1 0h2m1 0h3m2 0h1m1 0h1m1 0h1m4 0h1m2 0h1m3 0h17m1 0h4m1 0h5m1 0h6m1 0h7m1 0h8m1 0h3m1 0h4m1 0h3m1 0h1m1 0h3m1 0h1m3 0h2m1 0h2m2 0h4m1 0h2m1 0h2m10 0h1m11 0h1m25 0h1M278 455.5h3m2 0h1m3 0h1m1 0h2m1 0h1m2 0h7m1 0h27m1 0h5m1 0h11m1 0h2m2 0h2m1 0h16m1 0h1m2 0h2m1 0h1m3 0h1m1 0h4m2 0h8m20 0h2m14 0h1M273 456.5h2m3 0h1m2 0h2m5 0h1m2 0h1m3 0h2m1 0h5m1 0h1m1 0h7m1 0h5m1 0h29m1 0h4m2 0h1m1 0h2m1 0h6m2 0h1m1 0h3m1 0h2m1 0h1m1 0h4m1 0h1m1 0h2m1 0h3m1 0h2m1 0h1m2 0h1m4 0h1m9 0h1m21 0h1m8 0h1m9 0h1M280 457.5h1m1 0h3m4 0h1m2 0h3m3 0h8m1 0h3m2 0h8m1 0h9m2 0h4m1 0h10m1 0h3m1 0h18m3 0h5m2 0h1m1 0h7m5 0h2m1 0h1m2 0h1m3 0h1m10 0h1m5 0h1m12 0h1m5 0h1M270 458.5h2m2 0h1m3 0h1m4 0h1m1 0h1m1 0h2m1 0h2m2 0h4m2 0h3m2 0h2m1 0h7m1 0h9m2 0h2m1 0h4m1 0h2m1 0h2m1 0h23m1 0h11m1 0h2m1 0h13m1 0h1m3 0h1m1 0h1m1 0h1m1 0h2m10 0h1m11 0h1M270 459.5h1m1 0h2m2 0h1m1 0h1m2 0h2m1 0h1m1 0h3m1 0h7m1 0h2m1 0h4m1 0h14m1 0h19m2 0h12m1 0h14m2 0h15m1 0h6m7 0h2m9 0h1M273 460.5h1m2 0h1m1 0h2m2 0h1m1 0h2m1 0h1m2 0h1m2 0h10m2 0h6m1 0h3m1 0h2m1 0h7m1 0h2m1 0h6m2 0h2m1 0h5m1 0h7m1 0h10m1 0h1m1 0h3m1 0h11m1 0h2m1 0h7m2 0h1m2 0h2m25 0h1m2 0h1m2 0h1m5 0h1m8 0h1m10 0h1M269 461.5h1m8 0h1m1 0h4m2 0h1m2 0h15m2 0h3m1 0h5m1 0h13m1 0h20m1 0h6m2 0h2m1 0h6m1 0h3m1 0h5m2 0h1m2 0h1m1 0h1m1 0h1m2 0h5m3 0h1m29 0h1m2 0h1m2 0h1m1 0h1m16 0h1M270 462.5h1m2 0h2m3 0h1m1 0h4m2 0h2m1 0h15m1 0h2m1 0h3m1 0h3m1 0h2m1 0h3m1 0h12m1 0h7m1 0h4m1 0h2m1 0h13m1 0h3m1 0h15m1 0h3m1 0h6m3 0h3m1 0h1m5 0h1m1 0h1m1 0h1m1 0h1m7 0h1m11 0h1m5 0h1M268 463.5h1m5 0h2m2 0h1m3 0h5m1 0h2m1 0h14m1 0h12m1 0h2m1 0h8m1 0h14m1 0h2m1 0h15m1 0h17m1 0h3m1 0h2m2 0h3m1 0h1m1 0h1m3 0h1m5 0h1m6 0h1m20 0h1m10 0h1M268 464.5h1m5 0h1m1 0h3m2 0h6m2 0h7m2 0h13m1 0h1m1 0h11m1 0h5m1 0h2m1 0h4m1 0h1m1 0h2m1 0h2m2 0h1m1 0h1m2 0h1m2 0h12m1 0h8m2 0h12m2 0h3m2 0h1m24 0h1m4 0h1m19 0h1M265 465.5h1m2 0h1m1 0h4m3 0h1m3 0h1m1 0h1m1 0h2m1 0h2m1 0h5m1 0h3m1 0h3m2 0h1m1 0h7m1 0h7m2 0h14m1 0h9m1 0h1m1 0h4m2 0h1m1 0h23m1 0h11m1 0h1m8 0h2m2 0h1m11 0h1m6 0h1m9 0h1M265 466.5h1m5 0h1m1 0h3m1 0h1m2 0h2m1 0h2m1 0h5m1 0h4m2 0h1m2 0h7m2 0h1m1 0h5m1 0h4m1 0h18m1 0h7m1 0h14m1 0h1m1 0h5m1 0h9m1 0h9m1 0h2m2 0h2m1 0h2m10 0h1m7 0h1m4 0h1m8 0h1M265 467.5h1m1 0h2m6 0h1m1 0h1m1 0h3m2 0h5m1 0h7m1 0h7m1 0h7m1 0h8m1 0h10m1 0h8m1 0h9m1 0h1m1 0h1m1 0h3m1 0h6m1 0h22m1 0h1m1 0h1m5 0h2m15 0h1m11 0h1m14 0h1M263 468.5h1m1 0h1m4 0h1m2 0h1m3 0h5m1 0h19m1 0h4m1 0h10m2 0h8m1 0h2m1 0h2m1 0h1m1 0h10m1 0h2m1 0h7m1 0h14m1 0h1m1 0h8m2 0h8m2 0h2m16 0h1m16 0h1m2 0h1m1 0h1M265 469.5h3m5 0h1m2 0h8m1 0h11m1 0h1m1 0h1m1 0h1m1 0h11m1 0h4m2 0h18m1 0h1m2 0h14m1 0h3m1 0h3m1 0h15m1 0h2m1 0h5m1 0h3m3 0h3m3 0h1m16 0h1m1 0h1m4 0h1m1 0h1m16 0h1M267 470.5h1m1 0h1m3 0h1m1 0h2m1 0h20m1 0h10m2 0h7m1 0h4m1 0h6m1 0h1m1 0h10m1 0h5m1 0h6m1 0h14m1 0h5m1 0h2m1 0h3m1 0h4m1 0h3m5 0h1m24 0h1M266 471.5h1m1 0h2m1 0h1m1 0h9m2 0h4m2 0h2m1 0h2m1 0h20m1 0h4m1 0h2m1 0h2m1 0h4m1 0h3m2 0h1m1 0h1m2 0h9m1 0h5m1 0h2m1 0h4m1 0h1m1 0h4m1 0h1m1 0h2m2 0h1m1 0h1m1 0h8m2 0h1m2 0h1m36 0h2M264 472.5h1m4 0h1m2 0h2m1 0h3m1 0h1m1 0h2m1 0h10m1 0h4m1 0h9m1 0h6m1 0h20m1 0h2m1 0h6m1 0h2m4 0h19m1 0h5m1 0h8m1 0h1m1 0h3m2 0h1m2 0h1m6 0h1M263 473.5h3m1 0h2m1 0h4m1 0h10m1 0h4m1 0h1m1 0h4m1 0h2m1 0h11m1 0h1m1 0h14m1 0h3m2 0h2m2 0h11m1 0h2m1 0h8m1 0h2m1 0h12m1 0h1m1 0h9m1 0h1m1 0h1m6 0h1m3 0h1m1 0h1m13 0h1m5 0h1m6 0h1M265 474.5h1m1 0h1m1 0h8m3 0h8m1 0h10m2 0h2m1 0h5m1 0h7m2 0h1m1 0h11m1 0h2m1 0h9m1 0h10m1 0h8m1 0h16m1 0h7m4 0h2m3 0h1m9 0h1m1 0h2m2 0h1M266 475.5h2m2 0h13m1 0h3m1 0h7m1 0h10m1 0h4m1 0h14m1 0h3m1 0h6m1 0h7m2 0h3m1 0h4m1 0h1m2 0h9m1 0h5m1 0h9m1 0h4m1 0h1m1 0h2m16 0h1m9 0h2m23 0h1M265 476.5h1m1 0h3m1 0h13m1 0h3m1 0h5m1 0h15m1 0h3m1 0h1m2 0h1m2 0h3m1 0h1m1 0h4m1 0h14m1 0h2m1 0h12m1 0h22m1 0h1m2 0h2m2 0h1m3 0h1m15 0h1m5 0h2m8 0h1m1 0h2M264 477.5h2m1 0h20m1 0h1m1 0h13m1 0h3m1 0h8m1 0h2m1 0h3m1 0h6m1 0h8m1 0h3m1 0h2m1 0h24m2 0h14m1 0h1m1 0h1m2 0h1m8 0h1m5 0h1m7 0h1M264 478.5h1m2 0h11m1 0h17m2 0h26m1 0h2m1 0h15m1 0h19m1 0h7m2 0h9m1 0h5m1 0h1m2 0h2m7 0h1m7 0h1m1 0h1m10 0h1M267 479.5h5m1 0h3m1 0h7m1 0h5m1 0h2m1 0h3m1 0h4m1 0h4m1 0h15m3 0h4m1 0h5m1 0h9m1 0h6m1 0h3m1 0h5m1 0h17m1 0h5m1 0h1m2 0h4m4 0h1m1 0h1m3 0h1m1 0h1m11 0h1m1 0h1m10 0h1m6 0h1M264 480.5h4m1 0h3m1 0h9m1 0h4m1 0h4m1 0h8m1 0h2m1 0h16m1 0h38m1 0h5m1 0h4m1 0h9m2 0h5m5 0h1m4 0h1m18 0h1m2 0h2M263 481.5h22m1 0h11m1 0h8m1 0h1m1 0h8m1 0h2m1 0h6m1 0h7m3 0h15m1 0h6m1 0h3m1 0h3m1 0h10m1 0h5m1 0h2m2 0h3m1 0h1m9 0h1m4 0h2m5 0h2m2 0h1m4 0h1m5 0h1m4 0h1M262 482.5h2m1 0h1m1 0h13m1 0h1m1 0h13m1 0h1m2 0h7m2 0h2m1 0h1m1 0h5m1 0h1m1 0h3m1 0h22m1 0h1m1 0h1m1 0h10m2 0h10m1 0h1m1 0h4m1 0h1m1 0h1m1 0h3m2 0h1m2 0h1m11 0h1m4 0h1m2 0h1m1 0h1m4 0h1m21 0h1M263 483.5h2m1 0h2m1 0h11m1 0h12m1 0h18m1 0h12m1 0h1m1 0h2m2 0h2m1 0h14m1 0h1m1 0h13m1 0h1m1 0h16m1 0h3m3 0h1m2 0h2m21 0h1m1 0h1m6 0h1M263 484.5h2m1 0h9m1 0h7m1 0h2m2 0h3m1 0h4m1 0h11m1 0h3m1 0h4m1 0h3m1 0h2m1 0h7m2 0h4m1 0h4m1 0h2m1 0h7m1 0h1m1 0h9m1 0h2m1 0h8m2 0h3m1 0h1m2 0h1m2 0h1m1 0h1m6 0h2M262 485.5h6m1 0h12m1 0h1m1 0h7m2 0h8m1 0h5m1 0h3m1 0h6m1 0h8m1 0h4m1 0h5m1 0h16m1 0h20m1 0h1m1 0h3m1 0h4m1 0h1m1 0h1m5 0h1m9 0h1m25 0h1m10 0h1M264 486.5h3m1 0h9m2 0h11m1 0h19m2 0h10m1 0h18m1 0h2m1 0h3m1 0h3m1 0h6m1 0h14m1 0h3m1 0h3m1 0h2m1 0h1m5 0h1m9 0h1m10 0h1m3 0h1m1 0h1m1 0h1m1 0h2M261 487.5h12m2 0h14m1 0h7m2 0h6m2 0h6m1 0h5m3 0h2m1 0h5m2 0h2m2 0h2m1 0h8m2 0h4m2 0h3m1 0h3m1 0h6m1 0h1m1 0h5m1 0h6m2 0h1m2 0h1m10 0h1m8 0h1m10 0h1M262 488.5h1m1 0h1m1 0h6m1 0h9m2 0h2m1 0h9m1 0h6m1 0h6m2 0h8m1 0h1m1 0h4m1 0h2m2 0h7m1 0h21m1 0h14m1 0h6m1 0h3m2 0h1m15 0h1m14 0h1M261 489.5h2m1 0h20m1 0h7m1 0h3m1 0h5m1 0h3m1 0h7m1 0h9m1 0h5m1 0h1m1 0h4m1 0h1m1 0h19m1 0h1m1 0h6m1 0h4m1 0h10m3 0h1m16 0h1m2 0h1m1 0h1m2 0h1M261 490.5h10m1 0h10m1 0h1m1 0h40m1 0h3m1 0h21m1 0h1m1 0h2m1 0h8m1 0h5m1 0h10m2 0h1m1 0h1m1 0h1m25 0h2M261 491.5h2m1 0h2m2 0h7m1 0h2m1 0h17m1 0h10m1 0h3m1 0h16m1 0h2m1 0h1m1 0h5m1 0h4m1 0h8m1 0h5m1 0h1m1 0h1m1 0h2m1 0h3m1 0h2m1 0h3m1 0h4m2 0h1m11 0h1m3 0h1m3 0h1m17 0h1m16 0h1M261 492.5h1m1 0h5m1 0h10m1 0h21m1 0h2m1 0h17m1 0h10m1 0h6m1 0h5m1 0h9m2 0h8m1 0h6m1 0h3m2 0h2m2 0h2m3 0h2m6 0h1m29 0h1M261 493.5h1m2 0h14m1 0h7m1 0h1m1 0h2m2 0h7m1 0h2m1 0h4m1 0h16m1 0h3m2 0h2m1 0h7m1 0h5m1 0h9m1 0h3m1 0h4m2 0h7m1 0h6m1 0h2m2 0h1m9 0h1m10 0h1m7 0h1m12 0h1M259 494.5h6m1 0h4m1 0h1m1 0h4m1 0h8m2 0h10m1 0h3m1 0h5m1 0h5m1 0h10m1 0h2m1 0h5m1 0h2m1 0h2m1 0h4m1 0h4m1 0h1m1 0h3m1 0h1m1 0h3m2 0h4m1 0h8m1 0h1m1 0h1m3 0h4m6 0h1m17 0h1m10 0h1M260 495.5h3m1 0h11m1 0h1m1 0h5m2 0h15m1 0h4m1 0h2m1 0h13m1 0h13m1 0h1m1 0h18m1 0h6m1 0h3m2 0h1m1 0h5m1 0h2m1 0h1m2 0h1m4 0h1m10 0h1m1 0h1m5 0h1m24 0h1M261 496.5h1m1 0h1m2 0h1m2 0h7m2 0h2m2 0h9m1 0h7m1 0h28m1 0h1m2 0h5m2 0h2m1 0h15m2 0h14m1 0h2m1 0h4m5 0h2m2 0h1m34 0h1M261 497.5h2m1 0h18m2 0h8m1 0h5m1 0h3m1 0h10m2 0h3m1 0h14m1 0h2m1 0h5m1 0h7m1 0h3m1 0h7m1 0h13m1 0h1m1 0h1m1 0h4m6 0h1m5 0h1m4 0h2m12 0h1m9 0h1M263 498.5h4m2 0h10m1 0h6m1 0h12m1 0h13m1 0h1m1 0h20m1 0h2m1 0h3m3 0h23m1 0h3m1 0h2m1 0h1m3 0h1m8 0h1m19 0h1m1 0h1m5 0h2m2 0h1M259 499.5h2m2 0h1m1 0h1m1 0h1m2 0h16m1 0h3m1 0h4m1 0h2m1 0h3m1 0h3m1 0h5m1 0h1m2 0h9m1 0h4m1 0h5m2 0h13m1 0h1m2 0h15m1 0h1m2 0h1m1 0h1m1 0h3m8 0h3m6 0h1m9 0h1M261 500.5h10m1 0h8m1 0h16m1 0h4m2 0h1m1 0h9m2 0h2m1 0h8m2 0h2m1 0h7m1 0h7m1 0h2m1 0h6m1 0h2m1 0h12m4 0h1m1 0h1m1 0h1m1 0h1m10 0h1m8 0h1m3 0h1m5 0h1m1 0h1m4 0h1M262 501.5h2m1 0h1m1 0h5m1 0h1m2 0h2m1 0h2m1 0h3m1 0h5m1 0h12m1 0h22m2 0h17m1 0h5m1 0h12m2 0h8m2 0h4m20 0h1m16 0h1m8 0h1M265 502.5h1m2 0h2m1 0h2m1 0h3m2 0h11m1 0h10m1 0h2m1 0h8m1 0h5m1 0h1m1 0h2m1 0h7m2 0h2m2 0h7m1 0h7m1 0h1m1 0h3m1 0h6m1 0h5m1 0h1m1 0h4m1 0h1m1 0h1m18 0h1m7 0h2m2 0h1m2 0h1M266 503.5h1m1 0h1m1 0h1m1 0h7m1 0h4m1 0h6m1 0h4m2 0h11m3 0h3m1 0h3m1 0h8m1 0h11m2 0h10m1 0h2m1 0h12m1 0h2m1 0h2m1 0h4m1 0h2m3 0h1m2 0h1m1 0h1m5 0h2m4 0h1m17 0h1M265 504.5h10m1 0h1m1 0h1m1 0h6m1 0h1m1 0h5m1 0h1m1 0h4m1 0h5m1 0h5m1 0h8m1 0h12m1 0h8m1 0h10m2 0h7m2 0h3m4 0h1m2 0h2m2 0h1m22 0h1m3 0h1M264 505.5h20m1 0h10m1 0h14m1 0h8m1 0h1m1 0h4m2 0h9m1 0h3m1 0h25m4 0h1m4 0h1m1 0h1m9 0h1m5 0h1m5 0h2m10 0h1M264 506.5h12m1 0h8m1 0h1m1 0h14m1 0h3m1 0h26m1 0h3m1 0h6m1 0h1m1 0h2m1 0h3m1 0h4m2 0h3m1 0h1m1 0h2m3 0h1m3 0h2m4 0h1m12 0h1m2 0h2m1 0h1m2 0h1m12 0h1M264 507.5h7m1 0h2m1 0h13m1 0h4m1 0h2m1 0h4m1 0h8m1 0h2m1 0h9m1 0h3m1 0h14m1 0h14m1 0h8m3 0h1m7 0h1m1 0h1m2 0h2m23 0h4M263 508.5h3m1 0h5m1 0h11m1 0h3m2 0h1m1 0h17m1 0h2m1 0h5m1 0h7m1 0h4m1 0h7m1 0h12m3 0h8m1 0h2m1 0h1m1 0h3m1 0h1m11 0h1m2 0h1m3 0h1m9 0h1m11 0h1M263 509.5h10m1 0h3m1 0h1m1 0h4m1 0h2m1 0h15m1 0h2m1 0h19m2 0h15m2 0h2m1 0h2m1 0h2m1 0h5m1 0h2m1 0h2m2 0h1m2 0h1m2 0h1m1 0h1m7 0h1m13 0h1m7 0h2m13 0h1m7 0h1m8 0h1M263 510.5h11m3 0h10m1 0h5m1 0h2m1 0h3m2 0h3m1 0h6m1 0h7m1 0h8m1 0h1m1 0h9m1 0h2m2 0h8m1 0h3m2 0h3m3 0h1m1 0h5m2 0h1m1 0h1m9 0h1m2 0h1m10 0h1m7 0h1m19 0h1m4 0h2M263 511.5h1m1 0h12m1 0h4m1 0h4m1 0h7m1 0h19m1 0h1m1 0h5m1 0h10m1 0h7m1 0h1m1 0h2m1 0h2m1 0h9m3 0h2m1 0h2m1 0h1m3 0h2m23 0h3m1 0h1m7 0h1M262 512.5h5m3 0h5m1 0h26m1 0h1m1 0h7m1 0h14m1 0h2m1 0h3m1 0h4m1 0h3m1 0h2m1 0h3m2 0h2m2 0h2m2 0h1m1 0h2m3 0h1m2 0h1m2 0h2m6 0h1m6 0h1m1 0h1m4 0h1m17 0h1m1 0h1M261 513.5h1m2 0h2m2 0h3m3 0h4m1 0h3m2 0h11m1 0h39m1 0h3m1 0h2m1 0h1m1 0h5m1 0h2m2 0h6m1 0h2m1 0h1m3 0h1m1 0h1m11 0h1m12 0h1m4 0h1m7 0h1M259 514.5h2m1 0h2m1 0h18m1 0h2m1 0h8m2 0h1m1 0h1m1 0h12m1 0h3m1 0h9m1 0h11m2 0h7m1 0h4m3 0h8m2 0h1m1 0h3m1 0h1m18 0h1m10 0h1m23 0h1M259 515.5h1m1 0h6m1 0h7m1 0h1m2 0h7m2 0h13m1 0h1m1 0h1m2 0h5m1 0h7m3 0h10m1 0h7m1 0h4m1 0h2m2 0h1m1 0h9m1 0h1m1 0h2m9 0h1m16 0h2m29 0h1m11 0h1M259 516.5h1m1 0h10m1 0h1m1 0h5m1 0h7m1 0h5m1 0h4m1 0h5m1 0h4m1 0h7m1 0h4m3 0h3m1 0h2m2 0h1m1 0h3m1 0h1m2 0h11m1 0h7m2 0h3m19 0h1m10 0h1M257 517.5h5m1 0h14m1 0h2m1 0h14m1 0h11m1 0h3m1 0h3m1 0h12m1 0h18m1 0h2m1 0h1m1 0h3m2 0h1m2 0h4m1 0h1m2 0h3m3 0h1m31 0h1M258 518.5h3m3 0h2m1 0h3m1 0h3m1 0h5m1 0h1m1 0h13m2 0h2m1 0h3m3 0h2m1 0h4m1 0h3m1 0h4m1 0h3m1 0h7m1 0h1m1 0h4m1 0h1m2 0h6m1 0h7m3 0h1m1 0h4m3 0h1m4 0h1m1 0h1m13 0h1m9 0h1M256 519.5h10m1 0h3m1 0h12m1 0h2m1 0h6m1 0h4m1 0h4m1 0h11m1 0h4m1 0h1m1 0h2m1 0h2m1 0h8m1 0h5m1 0h5m2 0h5m1 0h2m1 0h1m1 0h1m1 0h1m1 0h2m1 0h1m4 0h1m1 0h1m1 0h1m1 0h1m13 0h1m3 0h1m3 0h1M255 520.5h2m1 0h1m1 0h17m1 0h20m2 0h2m2 0h9m1 0h3m1 0h7m1 0h2m1 0h6m1 0h2m1 0h7m1 0h10m1 0h2m3 0h1m2 0h1m14 0h1m2 0h1m1 0h1m3 0h2m3 0h1m7 0h1m2 0h1M256 521.5h1m1 0h2m1 0h2m1 0h10m2 0h6m1 0h11m1 0h5m1 0h4m1 0h5m1 0h3m1 0h2m1 0h12m1 0h4m1 0h5m1 0h1m1 0h5m1 0h2m1 0h7m5 0h1m1 0h1m16 0h1m9 0h1m3 0h2m2 0h1m7 0h1M256 522.5h2m1 0h11m1 0h10m1 0h8m2 0h6m1 0h12m1 0h5m1 0h5m1 0h11m1 0h7m3 0h3m1 0h1m1 0h2m1 0h5m1 0h1m2 0h1m16 0h1m8 0h1m13 0h1m2 0h1M251 523.5h1m1 0h14m1 0h11m1 0h10m1 0h22m1 0h4m2 0h4m1 0h4m1 0h4m1 0h5m1 0h10m1 0h1m1 0h4m2 0h2m1 0h1m20 0h1m14 0h1m2 0h1m11 0h1m10 0h1M249 524.5h4m1 0h15m2 0h4m1 0h22m1 0h2m2 0h1m1 0h2m1 0h21m1 0h19m1 0h9m1 0h8m5 0h1m6 0h1m15 0h1m6 0h1M249 525.5h22m1 0h2m1 0h6m2 0h6m1 0h12m1 0h10m1 0h1m1 0h3m1 0h2m1 0h13m3 0h7m1 0h11m1 0h2m1 0h2m2 0h1m7 0h1M247 526.5h4m1 0h4m1 0h1m1 0h9m3 0h13m1 0h3m1 0h11m1 0h8m1 0h5m1 0h8m1 0h1m3 0h1m1 0h18m1 0h4m1 0h7m4 0h1m4 0h1m14 0h1m6 0h1M247 527.5h14m1 0h31m1 0h9m1 0h1m1 0h10m1 0h6m1 0h2m2 0h2m1 0h6m1 0h4m2 0h5m2 0h2m1 0h5m1 0h2m3 0h1m3 0h1m4 0h2m7 0h1M246 528.5h2m1 0h5m1 0h7m1 0h1m1 0h4m1 0h20m1 0h2m1 0h3m1 0h3m1 0h2m1 0h8m1 0h3m2 0h19m1 0h7m1 0h7m2 0h1m1 0h1m1 0h4m25 0h1m3 0h1M244 529.5h8m1 0h4m2 0h4m1 0h6m1 0h1m1 0h10m1 0h13m1 0h7m2 0h3m1 0h3m1 0h1m1 0h2m1 0h6m1 0h9m1 0h13m1 0h10m2 0h1m10 0h2m7 0h1m1 0h1m1 0h1m12 0h1m5 0h1M243 530.5h4m1 0h7m1 0h6m1 0h2m1 0h5m2 0h11m1 0h12m1 0h3m2 0h1m1 0h1m1 0h4m1 0h11m1 0h8m1 0h17m1 0h5m1 0h1m1 0h3m6 0h1m2 0h1m3 0h1m8 0h1m2 0h1M242 531.5h19m1 0h6m1 0h2m1 0h2m1 0h21m1 0h1m1 0h27m1 0h3m1 0h11m1 0h4m1 0h5m1 0h2m1 0h1m5 0h1m13 0h1m34 0h1m3 0h1M241 532.5h27m1 0h1m1 0h1m1 0h8m1 0h4m3 0h3m1 0h9m1 0h4m1 0h3m1 0h6m1 0h19m1 0h1m2 0h7m1 0h6m1 0h1m2 0h1m1 0h1m1 0h1m6 0h1m3 0h1M241 533.5h14m1 0h3m1 0h18m1 0h5m1 0h12m1 0h3m1 0h1m1 0h8m1 0h20m1 0h1m1 0h17m1 0h2m1 0h1m1 0h1m1 0h3m5 0h1m21 0h1M240 534.5h26m1 0h1m1 0h5m1 0h2m2 0h4m7 0h15m1 0h2m1 0h18m1 0h3m1 0h2m1 0h1m1 0h6m1 0h7m1 0h1m1 0h4m1 0h2m12 0h1m3 0h1m8 0h1m8 0h1m9 0h1M240 535.5h2m1 0h22m2 0h4m1 0h7m12 0h3m4 0h3m1 0h1m1 0h1m1 0h17m1 0h21m1 0h10m1 0h1m5 0h1m20 0h1m4 0h1m1 0h1M239 536.5h23m2 0h1m1 0h1m1 0h2m3 0h1m17 0h19m1 0h2m2 0h4m1 0h9m1 0h16m1 0h2m1 0h7m1 0h1m1 0h1m2 0h1M239 537.5h23m1 0h3m4 0h1m21 0h17m1 0h9m1 0h3m1 0h9m2 0h16m1 0h1m1 0h3m1 0h2m3 0h1m7 0h1m32 0h1M234 538.5h1m1 0h2m1 0h13m1 0h1m1 0h1m1 0h2m13 0h1m18 0h2m1 0h9m1 0h2m1 0h8m2 0h1m2 0h7m1 0h17m1 0h5m1 0h2m1 0h1m3 0h1m1 0h1m9 0h1m2 0h1m3 0h1m28 0h1M235 539.5h20m36 0h8m1 0h5m1 0h3m1 0h6m1 0h8m1 0h1m2 0h5m1 0h1m2 0h13m1 0h9m1 0h1m3 0h1m2 0h1m14 0h1M233 540.5h17m39 0h3m1 0h6m1 0h7m2 0h8m1 0h1m2 0h18m1 0h20m2 0h1m14 0h2M232 541.5h16m1 0h1m39 0h2m1 0h6m1 0h15m1 0h8m1 0h1m1 0h12m1 0h14m2 0h2m4 0h1m10 0h1m4 0h1M232 542.5h14m46 0h16m1 0h8m4 0h4m1 0h4m1 0h2m1 0h5m1 0h4m1 0h5m2 0h6m1 0h3m19 0h1M231 543.5h14m45 0h4m1 0h60m2 0h1m1 0h2m8 0h1m2 0h1m5 0h1m10 0h1M229 544.5h14m48 0h19m1 0h29m1 0h3m1 0h5m2 0h2m3 0h4m4 0h1m2 0h1m1 0h1M229 545.5h13m48 0h3m2 0h9m1 0h7m1 0h5m1 0h3m1 0h1m1 0h6m2 0h1m1 0h3m1 0h2m1 0h8m1 0h3m7 0h1m5 0h1m7 0h1M229 546.5h10m51 0h2m1 0h9m2 0h1m1 0h8m1 0h2m2 0h3m1 0h1m1 0h5m1 0h5m1 0h5m2 0h1m1 0h4m1 0h4m4 0h1m7 0h1M229 547.5h9m53 0h1m1 0h2m1 0h4m1 0h3m1 0h1m1 0h2m3 0h7m1 0h1m1 0h3m2 0h1m1 0h19m1 0h4m1 0h2M228 548.5h9m52 0h2m1 0h1m1 0h8m1 0h8m1 0h3m1 0h3m1 0h2m1 0h5m1 0h12m1 0h10m1 0h2m1 0h1M227 549.5h8m53 0h2m1 0h16m2 0h8m1 0h2m1 0h5m1 0h9m2 0h4m1 0h4m1 0h2m2 0h5m9 0h1m4 0h1M227 550.5h6m54 0h1m1 0h7m1 0h2m1 0h13m1 0h8m1 0h2m1 0h15m1 0h8m1 0h1m3 0h1m1 0h1m30 0h1M225 551.5h7m56 0h5m2 0h9m1 0h1m1 0h2m1 0h10m1 0h6m1 0h5m1 0h6m1 0h1m1 0h4m1 0h2m1 0h2m2 0h1m1 0h2m24 0h1M225 552.5h5m57 0h1m1 0h13m1 0h7m1 0h20m1 0h10m1 0h1m1 0h7m5 0h2M225 553.5h5m57 0h12m1 0h5m1 0h6m2 0h2m1 0h5m1 0h9m1 0h13m1 0h7m4 0h1m7 0h1M224 554.5h4m58 0h1m1 0h9m1 0h4m1 0h2m2 0h10m1 0h8m2 0h3m2 0h3m1 0h9m3 0h2m3 0h2M223 555.5h4m59 0h1m1 0h2m1 0h3m1 0h4m1 0h1m1 0h11m1 0h1m1 0h9m1 0h18m1 0h2m1 0h3m2 0h2M222 556.5h3m61 0h3m1 0h1m1 0h4m2 0h5m1 0h3m1 0h1m1 0h7m1 0h6m1 0h14m1 0h8m4 0h1m2 0h1M221 557.5h3m62 0h1m1 0h8m1 0h2m1 0h1m1 0h6m1 0h2m1 0h14m1 0h2m1 0h2m1 0h3m1 0h6m1 0h1m2 0h2m1 0h2m2 0h1M220 558.5h3m63 0h4m1 0h2m1 0h12m1 0h3m1 0h7m1 0h4m1 0h3m1 0h2m1 0h14m2 0h2m3 0h2M219 559.5h4m64 0h26m1 0h1m1 0h3m1 0h1m2 0h8m1 0h6m1 0h1m1 0h2m1 0h1m1 0h1m4 0h2M219 560.5h2m65 0h13m1 0h3m1 0h19m2 0h6m1 0h1m1 0h5m1 0h3m1 0h5M217 561.5h3m65 0h2m1 0h9m1 0h8m1 0h1m1 0h1m1 0h12m1 0h1m2 0h6m2 0h1m2 0h1m2 0h1m3 0h1m2 0h1M217 562.5h1m67 0h5m1 0h1m1 0h1m1 0h12m2 0h5m1 0h5m7 0h1m2 0h4m1 0h1m8 0h1M216 563.5h1m67 0h7m1 0h7m1 0h15M213 564.5h1m1 0h1m69 0h5m1 0h5m1 0h2m1 0h4m2 0h1m2 0h5m2 0h1M285 565.5h3m1 0h8m1 0h5m1 0h3m1 0h4m3 0h1M284 566.5h2m1 0h1m2 0h1m3 0h2m1 0h2m1 0h11m1 0h2M285 567.5h16m1 0h3m2 0h2m1 0h1M284 568.5h1m1 0h1m1 0h3m2 0h10m1 0h4M288 569.5h16m1 0h1M284 570.5h10m1 0h7m1 0h3M284 571.5h1m1 0h4m1 0h1m1 0h3m1 0h5m1 0h2M283 572.5h2m1 0h3m1 0h11m1 0h1M284 573.5h5m1 0h2m1 0h5m2 0h1M282 574.5h1m2 0h1m1 0h13M283 575.5h1m1 0h5m1 0h2m1 0h3M283 576.5h13M284 577.5h12M282 578.5h14M282 579.5h13M282 580.5h12M281 581.5h4m1 0h7M281 582.5h9M281 583.5h10M280 584.5h9M280 585.5h7M279 586.5h7m1 0h1M279 587.5h7M278 588.5h7M278 589.5h6M277 590.5h6M277 591.5h6M276 592.5h7M275 593.5h6M274 594.5h6M273 595.5h3m1 0h2M272 596.5h6M272 597.5h5M270 598.5h6M269 599.5h6M269 600.5h5M268 601.5h5M267 602.5h3m1 0h2M266 603.5h4M265 604.5h5M265 605.5h3M264 606.5h3M263 607.5h3M262 608.5h4M261 609.5h2M261 610.5h1M260 611.5h1" stroke="#0a14f5" stroke-width="1" fill="none" shape-rendering="crispEdges"/>
<path d="M253,525 L280,493 M284,501 L326,453 M302,571 L359,506" stroke="#2f86ff" stroke-width="2.2" opacity="0.45" fill="none" stroke-linecap="round"/>
<path d="M144.9,316.0H510.3" stroke="#8a8a8a" stroke-width="1.7" fill="none"/>
<path d="M509.8,315.2V680.6" stroke="#555" stroke-width="1.3" fill="none"/>
<path d="M145.5,315.2V680.6M144.9,680.2H510.4" stroke="#3a3a3a" stroke-width="1.25" fill="none"/>
<text x="143.0" y="346.8" text-anchor="end" font-family='"Liberation Serif", serif' font-size="13" fill="#1c1c1c">2.8</text>
<text x="143.0" y="374.9" text-anchor="end" font-family='"Liberation Serif", serif' font-size="13" fill="#1c1c1c">2.6</text>
<text x="143.0" y="403.0" text-anchor="end" font-family='"Liberation Serif", serif' font-size="13" fill="#1c1c1c">2.4</text>
<text x="143.0" y="431.1" text-anchor="end" font-family='"Liberation Serif", serif' font-size="13" fill="#1c1c1c">2.2</text>
<text x="143.0" y="459.2" text-anchor="end" font-family='"Liberation Serif", serif' font-size="13" fill="#1c1c1c">2.0</text>
<text x="143.0" y="487.3" text-anchor="end" font-family='"Liberation Serif", serif' font-size="13" fill="#1c1c1c">1.8</text>
<text x="143.0" y="515.4" text-anchor="end" font-family='"Liberation Serif", serif' font-size="13" fill="#1c1c1c">1.6</text>
<text x="143.0" y="543.5" text-anchor="end" font-family='"Liberation Serif", serif' font-size="13" fill="#1c1c1c">1.4</text>
<text x="143.0" y="571.6" text-anchor="end" font-family='"Liberation Serif", serif' font-size="13" fill="#1c1c1c">1.2</text>
<text x="143.0" y="599.7" text-anchor="end" font-family='"Liberation Serif", serif' font-size="13" fill="#1c1c1c">1.0</text>
<text x="143.0" y="627.8" text-anchor="end" font-family='"Liberation Serif", serif' font-size="13" fill="#1c1c1c">0.8</text>
<text x="143.0" y="655.9" text-anchor="end" font-family='"Liberation Serif", serif' font-size="13" fill="#1c1c1c">0.6</text>
<text x="173.3" y="689.6" text-anchor="middle" font-family='"Liberation Serif", serif' font-size="13" fill="#1c1c1c">0.6</text>
<text x="201.4" y="689.6" text-anchor="middle" font-family='"Liberation Serif", serif' font-size="13" fill="#1c1c1c">0.8</text>
<text x="229.6" y="689.6" text-anchor="middle" font-family='"Liberation Serif", serif' font-size="13" fill="#1c1c1c">1.0</text>
<text x="257.7" y="689.6" text-anchor="middle" font-family='"Liberation Serif", serif' font-size="13" fill="#1c1c1c">1.2</text>
<text x="285.8" y="689.6" text-anchor="middle" font-family='"Liberation Serif", serif' font-size="13" fill="#1c1c1c">1.4</text>
<text x="314.0" y="689.6" text-anchor="middle" font-family='"Liberation Serif", serif' font-size="13" fill="#1c1c1c">1.6</text>
<text x="342.1" y="689.6" text-anchor="middle" font-family='"Liberation Serif", serif' font-size="13" fill="#1c1c1c">1.8</text>
<text x="370.2" y="689.6" text-anchor="middle" font-family='"Liberation Serif", serif' font-size="13" fill="#1c1c1c">2.0</text>
<text x="398.3" y="689.6" text-anchor="middle" font-family='"Liberation Serif", serif' font-size="13" fill="#1c1c1c">2.2</text>
<text x="426.5" y="689.6" text-anchor="middle" font-family='"Liberation Serif", serif' font-size="13" fill="#1c1c1c">2.4</text>
<text x="454.6" y="689.6" text-anchor="middle" font-family='"Liberation Serif", serif' font-size="13" fill="#1c1c1c">2.6</text>
<text x="482.7" y="689.6" text-anchor="middle" font-family='"Liberation Serif", serif' font-size="13" fill="#1c1c1c">2.8</text>
<text x="146.5" y="342" font-family='"Liberation Sans", sans-serif' font-weight="bold" font-style="italic" font-size="29.5">d</text>
<text x="161.3" y="349.1" font-family='"Liberation Sans", sans-serif' font-weight="bold" font-size="18">e</text>
<text x="474" y="674.5" font-family='"Liberation Sans", sans-serif' font-weight="bold" font-style="italic" font-size="29.5">d</text>
<text x="490.8" y="680.5" font-family='"Liberation Sans", sans-serif' font-weight="bold" font-style="italic" font-size="20">i</text>
</svg>
</body></html>
